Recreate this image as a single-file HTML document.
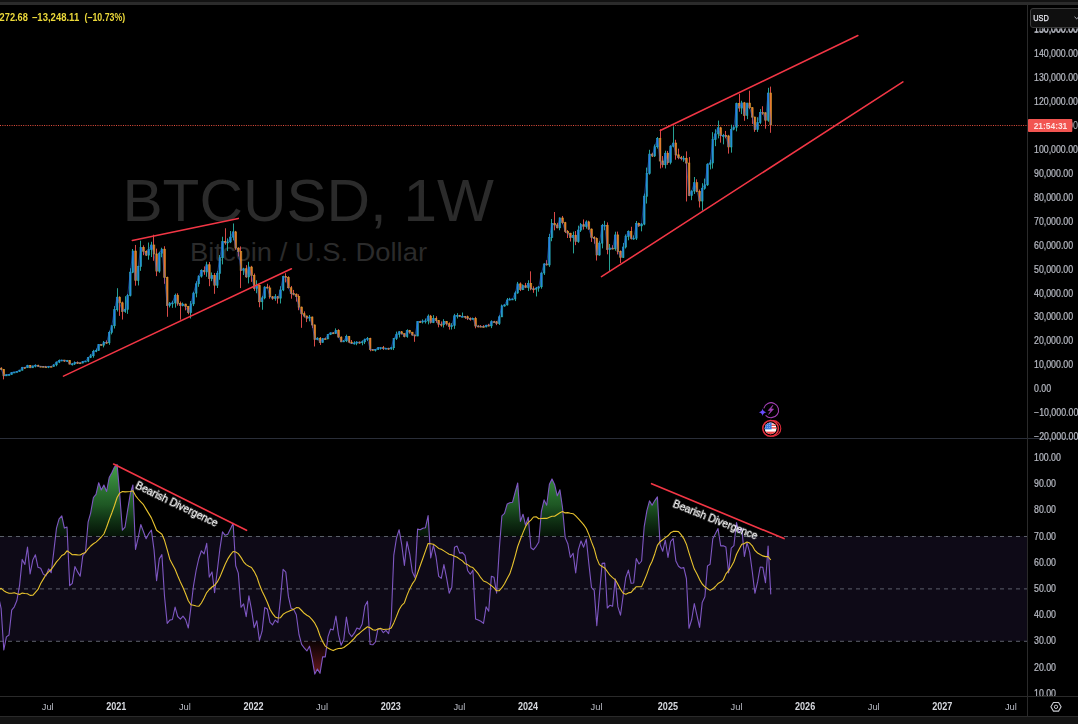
<!DOCTYPE html><html><head><meta charset="utf-8"><title>BTCUSD 1W</title><style>html,body{margin:0;padding:0;background:#000;overflow:hidden}body{width:1078px;height:724px;position:relative;font-family:"Liberation Sans",sans-serif}</style></head><body><svg width="1078" height="724" viewBox="0 0 1078 724" style="position:absolute;left:0;top:0;font-family:'Liberation Sans',sans-serif">
<defs><linearGradient id="gG" gradientUnits="userSpaceOnUse" x1="0" y1="458" x2="0" y2="536"><stop offset="0" stop-color="#4db352" stop-opacity="1"/><stop offset="0.6" stop-color="#2a7a32" stop-opacity="0.72"/><stop offset="1" stop-color="#1a5a24" stop-opacity="0.22"/></linearGradient><linearGradient id="gR" gradientUnits="userSpaceOnUse" x1="0" y1="641" x2="0" y2="700"><stop offset="0" stop-color="#7a1c22" stop-opacity="0.1"/><stop offset="1" stop-color="#e03540" stop-opacity="1"/></linearGradient><clipPath id="cM"><rect x="0" y="5" width="1027" height="433"/></clipPath><clipPath id="cR"><rect x="0" y="439" width="1027" height="257"/></clipPath><clipPath id="cU"><rect x="0" y="439" width="1027" height="97.2"/></clipPath><clipPath id="cD"><rect x="0" y="641" width="1027" height="55"/></clipPath><clipPath id="cAx"><rect x="1028" y="5" width="50" height="691"/></clipPath></defs>
<rect width="1078" height="724" fill="#000"/>
<rect x="0" y="0" width="1078" height="2" fill="#131313"/>
<rect x="0" y="2" width="1078" height="3" fill="#2b2b2b"/>
<g fill="#2b2b2b">
<text x="122.4" y="221.3" font-size="59.5" textLength="371.6" lengthAdjust="spacingAndGlyphs">BTCUSD, 1W</text>
<text x="190" y="261" font-size="26.6" textLength="237" lengthAdjust="spacingAndGlyphs">Bitcoin / U.S. Dollar</text>
</g>
<line x1="0" y1="125.5" x2="1027" y2="125.5" stroke="#e8503f" stroke-width="1" stroke-dasharray="1 1.32"/>
<g clip-path="url(#cM)">
<g opacity="0.9"><line x1="-1.5" y1="364.78" x2="-1.5" y2="368.31" stroke="#f0524f" stroke-width="1"/><line x1="1.5" y1="367.29" x2="1.5" y2="370.20" stroke="#f0524f" stroke-width="1"/><line x1="3.5" y1="368.98" x2="3.5" y2="379.39" stroke="#f0524f" stroke-width="1"/><line x1="6.5" y1="374.46" x2="6.5" y2="376.05" stroke="#2bb3a5" stroke-width="1"/><line x1="9.5" y1="374.43" x2="9.5" y2="375.15" stroke="#2bb3a5" stroke-width="1"/><line x1="11.5" y1="372.29" x2="11.5" y2="374.62" stroke="#2bb3a5" stroke-width="1"/><line x1="14.5" y1="371.93" x2="14.5" y2="372.53" stroke="#2bb3a5" stroke-width="1"/><line x1="16.5" y1="371.31" x2="16.5" y2="372.19" stroke="#2bb3a5" stroke-width="1"/><line x1="19.5" y1="370.08" x2="19.5" y2="371.70" stroke="#2bb3a5" stroke-width="1"/><line x1="22.5" y1="367.16" x2="22.5" y2="370.50" stroke="#2bb3a5" stroke-width="1"/><line x1="24.5" y1="367.19" x2="24.5" y2="368.78" stroke="#f0524f" stroke-width="1"/><line x1="27.5" y1="364.83" x2="27.5" y2="367.89" stroke="#2bb3a5" stroke-width="1"/><line x1="30.5" y1="365.20" x2="30.5" y2="368.08" stroke="#f0524f" stroke-width="1"/><line x1="32.5" y1="365.64" x2="32.5" y2="367.89" stroke="#2bb3a5" stroke-width="1"/><line x1="35.5" y1="364.32" x2="35.5" y2="367.36" stroke="#2bb3a5" stroke-width="1"/><line x1="38.5" y1="364.81" x2="38.5" y2="366.81" stroke="#f0524f" stroke-width="1"/><line x1="40.5" y1="366.13" x2="40.5" y2="366.50" stroke="#f0524f" stroke-width="1"/><line x1="43.5" y1="366.03" x2="43.5" y2="367.06" stroke="#f0524f" stroke-width="1"/><line x1="45.5" y1="365.91" x2="45.5" y2="367.09" stroke="#f0524f" stroke-width="1"/><line x1="48.5" y1="366.22" x2="48.5" y2="368.14" stroke="#2bb3a5" stroke-width="1"/><line x1="51.5" y1="365.84" x2="51.5" y2="366.75" stroke="#f0524f" stroke-width="1"/><line x1="53.5" y1="364.28" x2="53.5" y2="366.68" stroke="#2bb3a5" stroke-width="1"/><line x1="56.5" y1="361.51" x2="56.5" y2="366.25" stroke="#2bb3a5" stroke-width="1"/><line x1="59.5" y1="359.48" x2="59.5" y2="363.11" stroke="#2bb3a5" stroke-width="1"/><line x1="61.5" y1="359.80" x2="61.5" y2="361.14" stroke="#2bb3a5" stroke-width="1"/><line x1="64.5" y1="359.89" x2="64.5" y2="361.93" stroke="#f0524f" stroke-width="1"/><line x1="67.5" y1="359.94" x2="67.5" y2="361.94" stroke="#2bb3a5" stroke-width="1"/><line x1="69.5" y1="360.19" x2="69.5" y2="364.35" stroke="#f0524f" stroke-width="1"/><line x1="72.5" y1="362.93" x2="72.5" y2="365.54" stroke="#2bb3a5" stroke-width="1"/><line x1="74.5" y1="361.40" x2="74.5" y2="365.01" stroke="#2bb3a5" stroke-width="1"/><line x1="77.5" y1="361.45" x2="77.5" y2="363.86" stroke="#f0524f" stroke-width="1"/><line x1="80.5" y1="362.54" x2="80.5" y2="363.73" stroke="#f0524f" stroke-width="1"/><line x1="82.5" y1="360.99" x2="82.5" y2="363.21" stroke="#2bb3a5" stroke-width="1"/><line x1="85.5" y1="360.93" x2="85.5" y2="361.76" stroke="#2bb3a5" stroke-width="1"/><line x1="88.5" y1="357.07" x2="88.5" y2="362.11" stroke="#2bb3a5" stroke-width="1"/><line x1="90.5" y1="354.10" x2="90.5" y2="358.11" stroke="#2bb3a5" stroke-width="1"/><line x1="93.5" y1="349.83" x2="93.5" y2="357.66" stroke="#2bb3a5" stroke-width="1"/><line x1="96.5" y1="348.59" x2="96.5" y2="352.21" stroke="#2bb3a5" stroke-width="1"/><line x1="98.5" y1="344.11" x2="98.5" y2="350.84" stroke="#2bb3a5" stroke-width="1"/><line x1="101.5" y1="344.14" x2="101.5" y2="345.53" stroke="#f0524f" stroke-width="1"/><line x1="103.5" y1="340.99" x2="103.5" y2="347.38" stroke="#2bb3a5" stroke-width="1"/><line x1="106.5" y1="340.40" x2="106.5" y2="343.82" stroke="#f0524f" stroke-width="1"/><line x1="109.5" y1="330.79" x2="109.5" y2="344.80" stroke="#2bb3a5" stroke-width="1"/><line x1="111.5" y1="325.31" x2="111.5" y2="334.42" stroke="#2bb3a5" stroke-width="1"/><line x1="114.5" y1="306.12" x2="114.5" y2="328.48" stroke="#2bb3a5" stroke-width="1"/><line x1="117.5" y1="288.21" x2="117.5" y2="311.53" stroke="#2bb3a5" stroke-width="1"/><line x1="119.5" y1="296.39" x2="119.5" y2="315.85" stroke="#f0524f" stroke-width="1"/><line x1="122.5" y1="301.66" x2="122.5" y2="319.56" stroke="#f0524f" stroke-width="1"/><line x1="125.5" y1="296.23" x2="125.5" y2="312.84" stroke="#2bb3a5" stroke-width="1"/><line x1="127.5" y1="294.02" x2="127.5" y2="313.87" stroke="#2bb3a5" stroke-width="1"/><line x1="130.5" y1="268.30" x2="130.5" y2="296.44" stroke="#2bb3a5" stroke-width="1"/><line x1="132.5" y1="248.97" x2="132.5" y2="273.17" stroke="#2bb3a5" stroke-width="1"/><line x1="135.5" y1="244.94" x2="135.5" y2="285.70" stroke="#f0524f" stroke-width="1"/><line x1="138.5" y1="265.61" x2="138.5" y2="285.46" stroke="#2bb3a5" stroke-width="1"/><line x1="140.5" y1="240.71" x2="140.5" y2="270.84" stroke="#2bb3a5" stroke-width="1"/><line x1="143.5" y1="245.34" x2="143.5" y2="255.21" stroke="#f0524f" stroke-width="1"/><line x1="146.5" y1="250.34" x2="146.5" y2="255.83" stroke="#f0524f" stroke-width="1"/><line x1="148.5" y1="242.53" x2="148.5" y2="259.73" stroke="#2bb3a5" stroke-width="1"/><line x1="151.5" y1="241.77" x2="151.5" y2="257.09" stroke="#2bb3a5" stroke-width="1"/><line x1="153.5" y1="234.73" x2="153.5" y2="260.79" stroke="#f0524f" stroke-width="1"/><line x1="156.5" y1="248.64" x2="156.5" y2="276.13" stroke="#f0524f" stroke-width="1"/><line x1="159.5" y1="251.67" x2="159.5" y2="272.76" stroke="#2bb3a5" stroke-width="1"/><line x1="161.5" y1="247.73" x2="161.5" y2="257.27" stroke="#2bb3a5" stroke-width="1"/><line x1="164.5" y1="246.22" x2="164.5" y2="283.79" stroke="#f0524f" stroke-width="1"/><line x1="167.5" y1="276.62" x2="167.5" y2="316.81" stroke="#f0524f" stroke-width="1"/><line x1="169.5" y1="302.02" x2="169.5" y2="307.44" stroke="#2bb3a5" stroke-width="1"/><line x1="172.5" y1="300.74" x2="172.5" y2="307.85" stroke="#2bb3a5" stroke-width="1"/><line x1="175.5" y1="293.62" x2="175.5" y2="307.60" stroke="#2bb3a5" stroke-width="1"/><line x1="177.5" y1="293.27" x2="177.5" y2="305.71" stroke="#f0524f" stroke-width="1"/><line x1="180.5" y1="301.49" x2="180.5" y2="319.68" stroke="#f0524f" stroke-width="1"/><line x1="182.5" y1="302.56" x2="182.5" y2="306.36" stroke="#2bb3a5" stroke-width="1"/><line x1="185.5" y1="303.68" x2="185.5" y2="310.35" stroke="#f0524f" stroke-width="1"/><line x1="188.5" y1="305.94" x2="188.5" y2="314.29" stroke="#f0524f" stroke-width="1"/><line x1="190.5" y1="301.06" x2="190.5" y2="318.49" stroke="#2bb3a5" stroke-width="1"/><line x1="193.5" y1="291.81" x2="193.5" y2="306.10" stroke="#2bb3a5" stroke-width="1"/><line x1="196.5" y1="281.26" x2="196.5" y2="297.33" stroke="#2bb3a5" stroke-width="1"/><line x1="198.5" y1="275.36" x2="198.5" y2="286.80" stroke="#2bb3a5" stroke-width="1"/><line x1="201.5" y1="269.34" x2="201.5" y2="277.64" stroke="#2bb3a5" stroke-width="1"/><line x1="204.5" y1="266.36" x2="204.5" y2="274.80" stroke="#f0524f" stroke-width="1"/><line x1="206.5" y1="261.74" x2="206.5" y2="276.77" stroke="#2bb3a5" stroke-width="1"/><line x1="209.5" y1="262.01" x2="209.5" y2="286.18" stroke="#f0524f" stroke-width="1"/><line x1="211.5" y1="272.47" x2="211.5" y2="281.20" stroke="#2bb3a5" stroke-width="1"/><line x1="214.5" y1="273.05" x2="214.5" y2="293.84" stroke="#f0524f" stroke-width="1"/><line x1="217.5" y1="271.06" x2="217.5" y2="288.02" stroke="#2bb3a5" stroke-width="1"/><line x1="219.5" y1="255.05" x2="219.5" y2="279.76" stroke="#2bb3a5" stroke-width="1"/><line x1="222.5" y1="236.74" x2="222.5" y2="264.41" stroke="#2bb3a5" stroke-width="1"/><line x1="225.5" y1="228.27" x2="225.5" y2="244.71" stroke="#f0524f" stroke-width="1"/><line x1="227.5" y1="238.35" x2="227.5" y2="251.11" stroke="#2bb3a5" stroke-width="1"/><line x1="230.5" y1="231.02" x2="230.5" y2="243.10" stroke="#2bb3a5" stroke-width="1"/><line x1="233.5" y1="223.48" x2="233.5" y2="240.41" stroke="#2bb3a5" stroke-width="1"/><line x1="235.5" y1="230.90" x2="235.5" y2="249.80" stroke="#f0524f" stroke-width="1"/><line x1="238.5" y1="247.27" x2="238.5" y2="256.41" stroke="#f0524f" stroke-width="1"/><line x1="240.5" y1="246.43" x2="240.5" y2="288.09" stroke="#f0524f" stroke-width="1"/><line x1="243.5" y1="267.75" x2="243.5" y2="275.02" stroke="#2bb3a5" stroke-width="1"/><line x1="246.5" y1="265.15" x2="246.5" y2="277.77" stroke="#f0524f" stroke-width="1"/><line x1="248.5" y1="261.81" x2="248.5" y2="283.39" stroke="#2bb3a5" stroke-width="1"/><line x1="251.5" y1="265.83" x2="251.5" y2="281.90" stroke="#f0524f" stroke-width="1"/><line x1="254.5" y1="273.52" x2="254.5" y2="290.89" stroke="#f0524f" stroke-width="1"/><line x1="256.5" y1="280.30" x2="256.5" y2="293.24" stroke="#2bb3a5" stroke-width="1"/><line x1="259.5" y1="284.62" x2="259.5" y2="307.24" stroke="#f0524f" stroke-width="1"/><line x1="262.5" y1="295.90" x2="262.5" y2="309.75" stroke="#2bb3a5" stroke-width="1"/><line x1="264.5" y1="286.20" x2="264.5" y2="299.29" stroke="#2bb3a5" stroke-width="1"/><line x1="267.5" y1="283.77" x2="267.5" y2="288.52" stroke="#f0524f" stroke-width="1"/><line x1="269.5" y1="285.56" x2="269.5" y2="298.70" stroke="#f0524f" stroke-width="1"/><line x1="272.5" y1="296.22" x2="272.5" y2="299.82" stroke="#f0524f" stroke-width="1"/><line x1="275.5" y1="294.17" x2="275.5" y2="300.71" stroke="#2bb3a5" stroke-width="1"/><line x1="277.5" y1="296.16" x2="277.5" y2="303.57" stroke="#f0524f" stroke-width="1"/><line x1="280.5" y1="286.23" x2="280.5" y2="303.47" stroke="#2bb3a5" stroke-width="1"/><line x1="283.5" y1="275.73" x2="283.5" y2="291.16" stroke="#2bb3a5" stroke-width="1"/><line x1="285.5" y1="273.26" x2="285.5" y2="282.42" stroke="#f0524f" stroke-width="1"/><line x1="288.5" y1="276.27" x2="288.5" y2="288.53" stroke="#f0524f" stroke-width="1"/><line x1="291.5" y1="285.95" x2="291.5" y2="298.73" stroke="#f0524f" stroke-width="1"/><line x1="293.5" y1="289.90" x2="293.5" y2="295.39" stroke="#f0524f" stroke-width="1"/><line x1="296.5" y1="293.45" x2="296.5" y2="301.61" stroke="#f0524f" stroke-width="1"/><line x1="298.5" y1="294.30" x2="298.5" y2="310.22" stroke="#f0524f" stroke-width="1"/><line x1="301.5" y1="306.59" x2="301.5" y2="327.82" stroke="#f0524f" stroke-width="1"/><line x1="304.5" y1="311.36" x2="304.5" y2="317.60" stroke="#f0524f" stroke-width="1"/><line x1="306.5" y1="315.65" x2="306.5" y2="322.08" stroke="#f0524f" stroke-width="1"/><line x1="309.5" y1="315.03" x2="309.5" y2="321.33" stroke="#2bb3a5" stroke-width="1"/><line x1="312.5" y1="316.59" x2="312.5" y2="328.10" stroke="#f0524f" stroke-width="1"/><line x1="314.5" y1="324.56" x2="314.5" y2="346.48" stroke="#f0524f" stroke-width="1"/><line x1="317.5" y1="337.26" x2="317.5" y2="340.23" stroke="#2bb3a5" stroke-width="1"/><line x1="320.5" y1="337.02" x2="320.5" y2="344.96" stroke="#f0524f" stroke-width="1"/><line x1="322.5" y1="338.13" x2="322.5" y2="342.78" stroke="#2bb3a5" stroke-width="1"/><line x1="325.5" y1="337.58" x2="325.5" y2="339.41" stroke="#f0524f" stroke-width="1"/><line x1="327.5" y1="334.15" x2="327.5" y2="339.27" stroke="#2bb3a5" stroke-width="1"/><line x1="330.5" y1="332.52" x2="330.5" y2="335.08" stroke="#2bb3a5" stroke-width="1"/><line x1="333.5" y1="332.11" x2="333.5" y2="334.02" stroke="#f0524f" stroke-width="1"/><line x1="335.5" y1="328.39" x2="335.5" y2="333.98" stroke="#2bb3a5" stroke-width="1"/><line x1="338.5" y1="329.21" x2="338.5" y2="337.64" stroke="#f0524f" stroke-width="1"/><line x1="341.5" y1="336.40" x2="341.5" y2="342.07" stroke="#f0524f" stroke-width="1"/><line x1="343.5" y1="340.22" x2="343.5" y2="342.07" stroke="#2bb3a5" stroke-width="1"/><line x1="346.5" y1="334.67" x2="346.5" y2="342.09" stroke="#2bb3a5" stroke-width="1"/><line x1="349.5" y1="335.96" x2="349.5" y2="343.27" stroke="#f0524f" stroke-width="1"/><line x1="351.5" y1="340.02" x2="351.5" y2="343.94" stroke="#f0524f" stroke-width="1"/><line x1="354.5" y1="341.24" x2="354.5" y2="344.56" stroke="#2bb3a5" stroke-width="1"/><line x1="356.5" y1="341.20" x2="356.5" y2="345.20" stroke="#2bb3a5" stroke-width="1"/><line x1="359.5" y1="341.41" x2="359.5" y2="343.71" stroke="#f0524f" stroke-width="1"/><line x1="362.5" y1="340.36" x2="362.5" y2="345.29" stroke="#2bb3a5" stroke-width="1"/><line x1="364.5" y1="338.60" x2="364.5" y2="344.05" stroke="#2bb3a5" stroke-width="1"/><line x1="367.5" y1="336.97" x2="367.5" y2="340.96" stroke="#2bb3a5" stroke-width="1"/><line x1="370.5" y1="337.74" x2="370.5" y2="351.27" stroke="#f0524f" stroke-width="1"/><line x1="372.5" y1="349.37" x2="372.5" y2="350.02" stroke="#f0524f" stroke-width="1"/><line x1="375.5" y1="349.12" x2="375.5" y2="351.56" stroke="#2bb3a5" stroke-width="1"/><line x1="378.5" y1="347.22" x2="378.5" y2="349.71" stroke="#2bb3a5" stroke-width="1"/><line x1="380.5" y1="347.42" x2="380.5" y2="349.66" stroke="#2bb3a5" stroke-width="1"/><line x1="383.5" y1="345.95" x2="383.5" y2="349.96" stroke="#f0524f" stroke-width="1"/><line x1="385.5" y1="347.79" x2="385.5" y2="349.00" stroke="#2bb3a5" stroke-width="1"/><line x1="388.5" y1="347.78" x2="388.5" y2="349.78" stroke="#f0524f" stroke-width="1"/><line x1="391.5" y1="347.35" x2="391.5" y2="349.75" stroke="#2bb3a5" stroke-width="1"/><line x1="393.5" y1="338.02" x2="393.5" y2="350.06" stroke="#2bb3a5" stroke-width="1"/><line x1="396.5" y1="331.62" x2="396.5" y2="339.98" stroke="#2bb3a5" stroke-width="1"/><line x1="399.5" y1="331.16" x2="399.5" y2="337.45" stroke="#2bb3a5" stroke-width="1"/><line x1="401.5" y1="331.02" x2="401.5" y2="334.62" stroke="#f0524f" stroke-width="1"/><line x1="404.5" y1="333.39" x2="404.5" y2="337.40" stroke="#f0524f" stroke-width="1"/><line x1="407.5" y1="329.28" x2="407.5" y2="337.75" stroke="#2bb3a5" stroke-width="1"/><line x1="409.5" y1="329.91" x2="409.5" y2="333.67" stroke="#f0524f" stroke-width="1"/><line x1="412.5" y1="331.95" x2="412.5" y2="335.69" stroke="#f0524f" stroke-width="1"/><line x1="414.5" y1="334.65" x2="414.5" y2="341.82" stroke="#f0524f" stroke-width="1"/><line x1="417.5" y1="321.22" x2="417.5" y2="336.24" stroke="#2bb3a5" stroke-width="1"/><line x1="420.5" y1="320.73" x2="420.5" y2="322.49" stroke="#f0524f" stroke-width="1"/><line x1="422.5" y1="319.39" x2="422.5" y2="323.51" stroke="#2bb3a5" stroke-width="1"/><line x1="425.5" y1="318.52" x2="425.5" y2="323.49" stroke="#2bb3a5" stroke-width="1"/><line x1="428.5" y1="314.42" x2="428.5" y2="324.36" stroke="#2bb3a5" stroke-width="1"/><line x1="430.5" y1="314.91" x2="430.5" y2="323.59" stroke="#f0524f" stroke-width="1"/><line x1="433.5" y1="315.13" x2="433.5" y2="323.11" stroke="#2bb3a5" stroke-width="1"/><line x1="436.5" y1="316.27" x2="436.5" y2="322.84" stroke="#f0524f" stroke-width="1"/><line x1="438.5" y1="320.13" x2="438.5" y2="327.32" stroke="#f0524f" stroke-width="1"/><line x1="441.5" y1="321.42" x2="441.5" y2="326.70" stroke="#f0524f" stroke-width="1"/><line x1="443.5" y1="319.20" x2="443.5" y2="327.55" stroke="#2bb3a5" stroke-width="1"/><line x1="446.5" y1="320.97" x2="446.5" y2="325.47" stroke="#f0524f" stroke-width="1"/><line x1="449.5" y1="322.35" x2="449.5" y2="329.59" stroke="#f0524f" stroke-width="1"/><line x1="451.5" y1="323.14" x2="451.5" y2="329.55" stroke="#2bb3a5" stroke-width="1"/><line x1="454.5" y1="313.87" x2="454.5" y2="328.85" stroke="#2bb3a5" stroke-width="1"/><line x1="457.5" y1="313.11" x2="457.5" y2="318.47" stroke="#2bb3a5" stroke-width="1"/><line x1="459.5" y1="314.90" x2="459.5" y2="316.70" stroke="#f0524f" stroke-width="1"/><line x1="462.5" y1="312.50" x2="462.5" y2="317.24" stroke="#2bb3a5" stroke-width="1"/><line x1="465.5" y1="316.02" x2="465.5" y2="318.86" stroke="#f0524f" stroke-width="1"/><line x1="467.5" y1="315.59" x2="467.5" y2="320.06" stroke="#f0524f" stroke-width="1"/><line x1="470.5" y1="317.38" x2="470.5" y2="320.69" stroke="#f0524f" stroke-width="1"/><line x1="472.5" y1="317.57" x2="472.5" y2="319.31" stroke="#2bb3a5" stroke-width="1"/><line x1="475.5" y1="316.83" x2="475.5" y2="328.30" stroke="#f0524f" stroke-width="1"/><line x1="478.5" y1="325.18" x2="478.5" y2="327.33" stroke="#f0524f" stroke-width="1"/><line x1="480.5" y1="325.10" x2="480.5" y2="326.74" stroke="#f0524f" stroke-width="1"/><line x1="483.5" y1="325.17" x2="483.5" y2="327.34" stroke="#f0524f" stroke-width="1"/><line x1="486.5" y1="324.94" x2="486.5" y2="327.36" stroke="#2bb3a5" stroke-width="1"/><line x1="488.5" y1="323.85" x2="488.5" y2="326.20" stroke="#f0524f" stroke-width="1"/><line x1="491.5" y1="320.28" x2="491.5" y2="328.12" stroke="#2bb3a5" stroke-width="1"/><line x1="494.5" y1="320.83" x2="494.5" y2="322.61" stroke="#f0524f" stroke-width="1"/><line x1="496.5" y1="320.98" x2="496.5" y2="325.14" stroke="#f0524f" stroke-width="1"/><line x1="499.5" y1="315.19" x2="499.5" y2="324.95" stroke="#2bb3a5" stroke-width="1"/><line x1="501.5" y1="304.55" x2="501.5" y2="317.10" stroke="#2bb3a5" stroke-width="1"/><line x1="504.5" y1="304.43" x2="504.5" y2="306.69" stroke="#2bb3a5" stroke-width="1"/><line x1="507.5" y1="298.02" x2="507.5" y2="305.62" stroke="#2bb3a5" stroke-width="1"/><line x1="509.5" y1="297.83" x2="509.5" y2="300.24" stroke="#2bb3a5" stroke-width="1"/><line x1="512.5" y1="298.65" x2="512.5" y2="299.95" stroke="#2bb3a5" stroke-width="1"/><line x1="515.5" y1="291.18" x2="515.5" y2="301.09" stroke="#2bb3a5" stroke-width="1"/><line x1="517.5" y1="281.90" x2="517.5" y2="293.84" stroke="#2bb3a5" stroke-width="1"/><line x1="520.5" y1="282.45" x2="520.5" y2="291.08" stroke="#f0524f" stroke-width="1"/><line x1="522.5" y1="284.42" x2="522.5" y2="290.12" stroke="#2bb3a5" stroke-width="1"/><line x1="525.5" y1="282.88" x2="525.5" y2="288.15" stroke="#f0524f" stroke-width="1"/><line x1="528.5" y1="280.29" x2="528.5" y2="291.05" stroke="#2bb3a5" stroke-width="1"/><line x1="530.5" y1="271.34" x2="530.5" y2="290.23" stroke="#f0524f" stroke-width="1"/><line x1="533.5" y1="286.36" x2="533.5" y2="292.83" stroke="#f0524f" stroke-width="1"/><line x1="536.5" y1="286.90" x2="536.5" y2="296.47" stroke="#2bb3a5" stroke-width="1"/><line x1="538.5" y1="286.16" x2="538.5" y2="291.68" stroke="#2bb3a5" stroke-width="1"/><line x1="541.5" y1="272.32" x2="541.5" y2="288.70" stroke="#2bb3a5" stroke-width="1"/><line x1="544.5" y1="263.32" x2="544.5" y2="274.94" stroke="#2bb3a5" stroke-width="1"/><line x1="546.5" y1="260.20" x2="546.5" y2="265.50" stroke="#f0524f" stroke-width="1"/><line x1="549.5" y1="233.90" x2="549.5" y2="266.87" stroke="#2bb3a5" stroke-width="1"/><line x1="551.5" y1="218.99" x2="551.5" y2="241.24" stroke="#2bb3a5" stroke-width="1"/><line x1="554.5" y1="212.00" x2="554.5" y2="230.36" stroke="#f0524f" stroke-width="1"/><line x1="557.5" y1="222.79" x2="557.5" y2="228.34" stroke="#f0524f" stroke-width="1"/><line x1="559.5" y1="217.42" x2="559.5" y2="230.27" stroke="#2bb3a5" stroke-width="1"/><line x1="562.5" y1="215.94" x2="562.5" y2="224.16" stroke="#f0524f" stroke-width="1"/><line x1="565.5" y1="221.85" x2="565.5" y2="233.02" stroke="#f0524f" stroke-width="1"/><line x1="567.5" y1="230.06" x2="567.5" y2="238.02" stroke="#f0524f" stroke-width="1"/><line x1="570.5" y1="232.78" x2="570.5" y2="241.56" stroke="#f0524f" stroke-width="1"/><line x1="573.5" y1="231.58" x2="573.5" y2="253.40" stroke="#2bb3a5" stroke-width="1"/><line x1="575.5" y1="231.04" x2="575.5" y2="245.15" stroke="#f0524f" stroke-width="1"/><line x1="578.5" y1="225.66" x2="578.5" y2="242.84" stroke="#2bb3a5" stroke-width="1"/><line x1="580.5" y1="223.07" x2="580.5" y2="231.96" stroke="#2bb3a5" stroke-width="1"/><line x1="583.5" y1="219.46" x2="583.5" y2="229.59" stroke="#f0524f" stroke-width="1"/><line x1="586.5" y1="220.34" x2="586.5" y2="228.61" stroke="#2bb3a5" stroke-width="1"/><line x1="588.5" y1="220.69" x2="588.5" y2="229.69" stroke="#f0524f" stroke-width="1"/><line x1="591.5" y1="228.43" x2="591.5" y2="241.92" stroke="#f0524f" stroke-width="1"/><line x1="594.5" y1="236.20" x2="594.5" y2="243.72" stroke="#f0524f" stroke-width="1"/><line x1="596.5" y1="237.41" x2="596.5" y2="260.57" stroke="#f0524f" stroke-width="1"/><line x1="599.5" y1="241.11" x2="599.5" y2="255.78" stroke="#2bb3a5" stroke-width="1"/><line x1="602.5" y1="223.91" x2="602.5" y2="248.37" stroke="#2bb3a5" stroke-width="1"/><line x1="604.5" y1="220.85" x2="604.5" y2="230.26" stroke="#2bb3a5" stroke-width="1"/><line x1="607.5" y1="222.40" x2="607.5" y2="254.30" stroke="#f0524f" stroke-width="1"/><line x1="609.5" y1="244.00" x2="609.5" y2="271.34" stroke="#2bb3a5" stroke-width="1"/><line x1="612.5" y1="245.22" x2="612.5" y2="249.24" stroke="#f0524f" stroke-width="1"/><line x1="615.5" y1="231.71" x2="615.5" y2="250.68" stroke="#2bb3a5" stroke-width="1"/><line x1="617.5" y1="231.59" x2="617.5" y2="254.43" stroke="#f0524f" stroke-width="1"/><line x1="620.5" y1="250.43" x2="620.5" y2="262.97" stroke="#f0524f" stroke-width="1"/><line x1="623.5" y1="242.98" x2="623.5" y2="257.99" stroke="#2bb3a5" stroke-width="1"/><line x1="625.5" y1="234.49" x2="625.5" y2="248.52" stroke="#2bb3a5" stroke-width="1"/><line x1="628.5" y1="230.37" x2="628.5" y2="240.31" stroke="#2bb3a5" stroke-width="1"/><line x1="631.5" y1="226.77" x2="631.5" y2="239.52" stroke="#f0524f" stroke-width="1"/><line x1="633.5" y1="235.42" x2="633.5" y2="239.69" stroke="#2bb3a5" stroke-width="1"/><line x1="636.5" y1="220.97" x2="636.5" y2="240.01" stroke="#2bb3a5" stroke-width="1"/><line x1="638.5" y1="222.61" x2="638.5" y2="226.79" stroke="#f0524f" stroke-width="1"/><line x1="641.5" y1="223.09" x2="641.5" y2="231.35" stroke="#2bb3a5" stroke-width="1"/><line x1="644.5" y1="193.64" x2="644.5" y2="225.22" stroke="#2bb3a5" stroke-width="1"/><line x1="646.5" y1="167.57" x2="646.5" y2="203.57" stroke="#2bb3a5" stroke-width="1"/><line x1="649.5" y1="149.78" x2="649.5" y2="174.69" stroke="#2bb3a5" stroke-width="1"/><line x1="652.5" y1="152.75" x2="652.5" y2="156.99" stroke="#f0524f" stroke-width="1"/><line x1="654.5" y1="144.49" x2="654.5" y2="156.99" stroke="#2bb3a5" stroke-width="1"/><line x1="657.5" y1="136.99" x2="657.5" y2="148.58" stroke="#2bb3a5" stroke-width="1"/><line x1="660.5" y1="129.32" x2="660.5" y2="168.47" stroke="#f0524f" stroke-width="1"/><line x1="662.5" y1="156.05" x2="662.5" y2="167.56" stroke="#f0524f" stroke-width="1"/><line x1="665.5" y1="150.68" x2="665.5" y2="168.46" stroke="#2bb3a5" stroke-width="1"/><line x1="667.5" y1="150.91" x2="667.5" y2="164.77" stroke="#f0524f" stroke-width="1"/><line x1="670.5" y1="145.28" x2="670.5" y2="164.37" stroke="#2bb3a5" stroke-width="1"/><line x1="673.5" y1="126.33" x2="673.5" y2="147.37" stroke="#2bb3a5" stroke-width="1"/><line x1="675.5" y1="139.76" x2="675.5" y2="159.69" stroke="#f0524f" stroke-width="1"/><line x1="678.5" y1="148.67" x2="678.5" y2="159.25" stroke="#f0524f" stroke-width="1"/><line x1="681.5" y1="155.98" x2="681.5" y2="160.39" stroke="#f0524f" stroke-width="1"/><line x1="683.5" y1="155.85" x2="683.5" y2="161.80" stroke="#2bb3a5" stroke-width="1"/><line x1="686.5" y1="151.38" x2="686.5" y2="201.47" stroke="#f0524f" stroke-width="1"/><line x1="689.5" y1="157.05" x2="689.5" y2="196.14" stroke="#f0524f" stroke-width="1"/><line x1="691.5" y1="190.37" x2="691.5" y2="200.18" stroke="#2bb3a5" stroke-width="1"/><line x1="694.5" y1="177.01" x2="694.5" y2="193.97" stroke="#2bb3a5" stroke-width="1"/><line x1="696.5" y1="179.35" x2="696.5" y2="192.19" stroke="#f0524f" stroke-width="1"/><line x1="699.5" y1="189.51" x2="699.5" y2="207.50" stroke="#f0524f" stroke-width="1"/><line x1="702.5" y1="183.23" x2="702.5" y2="210.56" stroke="#2bb3a5" stroke-width="1"/><line x1="704.5" y1="178.58" x2="704.5" y2="189.72" stroke="#2bb3a5" stroke-width="1"/><line x1="707.5" y1="163.28" x2="707.5" y2="185.94" stroke="#2bb3a5" stroke-width="1"/><line x1="710.5" y1="159.76" x2="710.5" y2="169.44" stroke="#2bb3a5" stroke-width="1"/><line x1="712.5" y1="132.16" x2="712.5" y2="168.56" stroke="#2bb3a5" stroke-width="1"/><line x1="715.5" y1="129.23" x2="715.5" y2="146.18" stroke="#2bb3a5" stroke-width="1"/><line x1="718.5" y1="120.58" x2="718.5" y2="138.38" stroke="#2bb3a5" stroke-width="1"/><line x1="720.5" y1="126.84" x2="720.5" y2="142.66" stroke="#f0524f" stroke-width="1"/><line x1="723.5" y1="133.89" x2="723.5" y2="144.35" stroke="#2bb3a5" stroke-width="1"/><line x1="725.5" y1="130.95" x2="725.5" y2="138.34" stroke="#f0524f" stroke-width="1"/><line x1="728.5" y1="134.85" x2="728.5" y2="153.61" stroke="#f0524f" stroke-width="1"/><line x1="731.5" y1="124.70" x2="731.5" y2="152.67" stroke="#2bb3a5" stroke-width="1"/><line x1="733.5" y1="126.14" x2="733.5" y2="130.34" stroke="#2bb3a5" stroke-width="1"/><line x1="736.5" y1="102.64" x2="736.5" y2="131.35" stroke="#2bb3a5" stroke-width="1"/><line x1="739.5" y1="93.78" x2="739.5" y2="111.73" stroke="#f0524f" stroke-width="1"/><line x1="741.5" y1="100.72" x2="741.5" y2="114.12" stroke="#2bb3a5" stroke-width="1"/><line x1="744.5" y1="101.92" x2="744.5" y2="120.82" stroke="#f0524f" stroke-width="1"/><line x1="747.5" y1="102.88" x2="747.5" y2="119.15" stroke="#2bb3a5" stroke-width="1"/><line x1="749.5" y1="90.67" x2="749.5" y2="109.10" stroke="#f0524f" stroke-width="1"/><line x1="752.5" y1="107.18" x2="752.5" y2="123.93" stroke="#f0524f" stroke-width="1"/><line x1="754.5" y1="116.76" x2="754.5" y2="131.83" stroke="#f0524f" stroke-width="1"/><line x1="757.5" y1="117.23" x2="757.5" y2="131.95" stroke="#2bb3a5" stroke-width="1"/><line x1="760.5" y1="109.10" x2="760.5" y2="123.93" stroke="#2bb3a5" stroke-width="1"/><line x1="762.5" y1="106.23" x2="762.5" y2="114.84" stroke="#f0524f" stroke-width="1"/><line x1="765.5" y1="112.45" x2="765.5" y2="128.72" stroke="#f0524f" stroke-width="1"/><line x1="768.5" y1="87.80" x2="768.5" y2="121.78" stroke="#2bb3a5" stroke-width="1"/><line x1="770.5" y1="86.60" x2="770.5" y2="132.79" stroke="#f0524f" stroke-width="1"/></g>
<g opacity="0.92"><rect x="-2.31" y="365.48" width="1.6" height="2.70" fill="#ee6a35" stroke="#dca02c" stroke-width="0.7"/><rect x="0.33" y="368.19" width="1.6" height="1.17" fill="#ee6a35" stroke="#dca02c" stroke-width="0.7"/><rect x="2.96" y="369.36" width="1.6" height="6.44" fill="#ee6a35" stroke="#dca02c" stroke-width="0.7"/><rect x="5.60" y="374.68" width="1.6" height="1.11" fill="#2a7df5" stroke="#27b0b0" stroke-width="0.7"/><rect x="8.24" y="374.53" width="1.6" height="0.90" fill="#2a7df5" stroke="#27b0b0" stroke-width="0.7"/><rect x="10.87" y="372.39" width="1.6" height="2.14" fill="#2a7df5" stroke="#27b0b0" stroke-width="0.7"/><rect x="13.51" y="372.09" width="1.6" height="0.90" fill="#2a7df5" stroke="#27b0b0" stroke-width="0.7"/><rect x="16.14" y="371.55" width="1.6" height="0.90" fill="#2a7df5" stroke="#27b0b0" stroke-width="0.7"/><rect x="18.78" y="370.17" width="1.6" height="1.38" fill="#2a7df5" stroke="#27b0b0" stroke-width="0.7"/><rect x="21.41" y="367.30" width="1.6" height="2.87" fill="#2a7df5" stroke="#27b0b0" stroke-width="0.7"/><rect x="24.05" y="367.30" width="1.6" height="0.90" fill="#ee6a35" stroke="#dca02c" stroke-width="0.7"/><rect x="26.69" y="365.46" width="1.6" height="2.25" fill="#2a7df5" stroke="#27b0b0" stroke-width="0.7"/><rect x="29.32" y="365.46" width="1.6" height="2.27" fill="#ee6a35" stroke="#dca02c" stroke-width="0.7"/><rect x="31.96" y="365.99" width="1.6" height="1.75" fill="#2a7df5" stroke="#27b0b0" stroke-width="0.7"/><rect x="34.59" y="365.27" width="1.6" height="0.90" fill="#2a7df5" stroke="#27b0b0" stroke-width="0.7"/><rect x="37.23" y="365.27" width="1.6" height="1.01" fill="#ee6a35" stroke="#dca02c" stroke-width="0.7"/><rect x="39.86" y="366.27" width="1.6" height="0.90" fill="#ee6a35" stroke="#dca02c" stroke-width="0.7"/><rect x="42.50" y="366.35" width="1.6" height="0.90" fill="#ee6a35" stroke="#dca02c" stroke-width="0.7"/><rect x="45.14" y="366.78" width="1.6" height="0.90" fill="#ee6a35" stroke="#dca02c" stroke-width="0.7"/><rect x="47.77" y="366.35" width="1.6" height="0.90" fill="#2a7df5" stroke="#27b0b0" stroke-width="0.7"/><rect x="50.41" y="366.35" width="1.6" height="0.90" fill="#ee6a35" stroke="#dca02c" stroke-width="0.7"/><rect x="53.04" y="364.84" width="1.6" height="1.72" fill="#2a7df5" stroke="#27b0b0" stroke-width="0.7"/><rect x="55.68" y="362.11" width="1.6" height="2.73" fill="#2a7df5" stroke="#27b0b0" stroke-width="0.7"/><rect x="58.31" y="360.65" width="1.6" height="1.46" fill="#2a7df5" stroke="#27b0b0" stroke-width="0.7"/><rect x="60.95" y="360.12" width="1.6" height="0.90" fill="#2a7df5" stroke="#27b0b0" stroke-width="0.7"/><rect x="63.59" y="360.12" width="1.6" height="0.90" fill="#ee6a35" stroke="#dca02c" stroke-width="0.7"/><rect x="66.22" y="360.58" width="1.6" height="0.90" fill="#2a7df5" stroke="#27b0b0" stroke-width="0.7"/><rect x="68.86" y="360.58" width="1.6" height="3.49" fill="#ee6a35" stroke="#dca02c" stroke-width="0.7"/><rect x="71.49" y="363.88" width="1.6" height="0.90" fill="#2a7df5" stroke="#27b0b0" stroke-width="0.7"/><rect x="74.13" y="362.47" width="1.6" height="1.41" fill="#2a7df5" stroke="#27b0b0" stroke-width="0.7"/><rect x="76.76" y="362.47" width="1.6" height="0.90" fill="#ee6a35" stroke="#dca02c" stroke-width="0.7"/><rect x="79.40" y="362.80" width="1.6" height="0.90" fill="#ee6a35" stroke="#dca02c" stroke-width="0.7"/><rect x="82.04" y="361.39" width="1.6" height="1.68" fill="#2a7df5" stroke="#27b0b0" stroke-width="0.7"/><rect x="84.67" y="361.08" width="1.6" height="0.90" fill="#2a7df5" stroke="#27b0b0" stroke-width="0.7"/><rect x="87.31" y="357.42" width="1.6" height="3.66" fill="#2a7df5" stroke="#27b0b0" stroke-width="0.7"/><rect x="89.94" y="355.67" width="1.6" height="1.75" fill="#2a7df5" stroke="#27b0b0" stroke-width="0.7"/><rect x="92.58" y="351.56" width="1.6" height="4.12" fill="#2a7df5" stroke="#27b0b0" stroke-width="0.7"/><rect x="95.21" y="350.41" width="1.6" height="1.15" fill="#2a7df5" stroke="#27b0b0" stroke-width="0.7"/><rect x="97.85" y="344.54" width="1.6" height="5.86" fill="#2a7df5" stroke="#27b0b0" stroke-width="0.7"/><rect x="100.49" y="344.54" width="1.6" height="0.90" fill="#ee6a35" stroke="#dca02c" stroke-width="0.7"/><rect x="103.12" y="342.27" width="1.6" height="2.80" fill="#2a7df5" stroke="#27b0b0" stroke-width="0.7"/><rect x="105.76" y="342.27" width="1.6" height="0.90" fill="#ee6a35" stroke="#dca02c" stroke-width="0.7"/><rect x="108.39" y="332.44" width="1.6" height="10.29" fill="#2a7df5" stroke="#27b0b0" stroke-width="0.7"/><rect x="111.03" y="325.71" width="1.6" height="6.72" fill="#2a7df5" stroke="#27b0b0" stroke-width="0.7"/><rect x="113.66" y="309.65" width="1.6" height="16.06" fill="#2a7df5" stroke="#27b0b0" stroke-width="0.7"/><rect x="116.30" y="297.19" width="1.6" height="12.47" fill="#2a7df5" stroke="#27b0b0" stroke-width="0.7"/><rect x="118.94" y="297.19" width="1.6" height="5.67" fill="#ee6a35" stroke="#dca02c" stroke-width="0.7"/><rect x="121.57" y="302.86" width="1.6" height="8.50" fill="#ee6a35" stroke="#dca02c" stroke-width="0.7"/><rect x="124.21" y="309.37" width="1.6" height="1.99" fill="#2a7df5" stroke="#27b0b0" stroke-width="0.7"/><rect x="126.84" y="295.58" width="1.6" height="13.78" fill="#2a7df5" stroke="#27b0b0" stroke-width="0.7"/><rect x="129.48" y="272.18" width="1.6" height="23.40" fill="#2a7df5" stroke="#27b0b0" stroke-width="0.7"/><rect x="132.11" y="251.05" width="1.6" height="21.13" fill="#2a7df5" stroke="#27b0b0" stroke-width="0.7"/><rect x="134.75" y="251.05" width="1.6" height="29.29" fill="#ee6a35" stroke="#dca02c" stroke-width="0.7"/><rect x="137.39" y="266.56" width="1.6" height="13.78" fill="#2a7df5" stroke="#27b0b0" stroke-width="0.7"/><rect x="140.02" y="247.41" width="1.6" height="19.14" fill="#2a7df5" stroke="#27b0b0" stroke-width="0.7"/><rect x="142.66" y="247.41" width="1.6" height="3.95" fill="#ee6a35" stroke="#dca02c" stroke-width="0.7"/><rect x="145.29" y="251.36" width="1.6" height="3.76" fill="#ee6a35" stroke="#dca02c" stroke-width="0.7"/><rect x="147.93" y="249.33" width="1.6" height="5.79" fill="#2a7df5" stroke="#27b0b0" stroke-width="0.7"/><rect x="150.56" y="245.02" width="1.6" height="4.31" fill="#2a7df5" stroke="#27b0b0" stroke-width="0.7"/><rect x="153.20" y="245.02" width="1.6" height="8.93" fill="#ee6a35" stroke="#dca02c" stroke-width="0.7"/><rect x="155.84" y="253.95" width="1.6" height="17.16" fill="#ee6a35" stroke="#dca02c" stroke-width="0.7"/><rect x="158.47" y="253.16" width="1.6" height="17.95" fill="#2a7df5" stroke="#27b0b0" stroke-width="0.7"/><rect x="161.11" y="249.21" width="1.6" height="3.95" fill="#2a7df5" stroke="#27b0b0" stroke-width="0.7"/><rect x="163.74" y="249.21" width="1.6" height="28.24" fill="#ee6a35" stroke="#dca02c" stroke-width="0.7"/><rect x="166.38" y="277.45" width="1.6" height="28.12" fill="#ee6a35" stroke="#dca02c" stroke-width="0.7"/><rect x="169.01" y="303.29" width="1.6" height="2.27" fill="#2a7df5" stroke="#27b0b0" stroke-width="0.7"/><rect x="171.65" y="302.93" width="1.6" height="0.90" fill="#2a7df5" stroke="#27b0b0" stroke-width="0.7"/><rect x="174.29" y="295.27" width="1.6" height="7.66" fill="#2a7df5" stroke="#27b0b0" stroke-width="0.7"/><rect x="176.92" y="295.27" width="1.6" height="8.14" fill="#ee6a35" stroke="#dca02c" stroke-width="0.7"/><rect x="179.56" y="303.41" width="1.6" height="2.15" fill="#ee6a35" stroke="#dca02c" stroke-width="0.7"/><rect x="182.19" y="304.13" width="1.6" height="1.44" fill="#2a7df5" stroke="#27b0b0" stroke-width="0.7"/><rect x="184.83" y="304.13" width="1.6" height="2.51" fill="#ee6a35" stroke="#dca02c" stroke-width="0.7"/><rect x="187.46" y="306.64" width="1.6" height="5.86" fill="#ee6a35" stroke="#dca02c" stroke-width="0.7"/><rect x="190.10" y="303.89" width="1.6" height="8.61" fill="#2a7df5" stroke="#27b0b0" stroke-width="0.7"/><rect x="192.74" y="293.12" width="1.6" height="10.77" fill="#2a7df5" stroke="#27b0b0" stroke-width="0.7"/><rect x="195.37" y="283.79" width="1.6" height="9.33" fill="#2a7df5" stroke="#27b0b0" stroke-width="0.7"/><rect x="198.01" y="276.13" width="1.6" height="7.66" fill="#2a7df5" stroke="#27b0b0" stroke-width="0.7"/><rect x="200.64" y="270.63" width="1.6" height="5.50" fill="#2a7df5" stroke="#27b0b0" stroke-width="0.7"/><rect x="203.28" y="270.63" width="1.6" height="1.20" fill="#ee6a35" stroke="#dca02c" stroke-width="0.7"/><rect x="205.91" y="264.76" width="1.6" height="7.06" fill="#2a7df5" stroke="#27b0b0" stroke-width="0.7"/><rect x="208.55" y="264.76" width="1.6" height="13.64" fill="#ee6a35" stroke="#dca02c" stroke-width="0.7"/><rect x="211.19" y="275.53" width="1.6" height="2.87" fill="#2a7df5" stroke="#27b0b0" stroke-width="0.7"/><rect x="213.82" y="275.53" width="1.6" height="9.69" fill="#ee6a35" stroke="#dca02c" stroke-width="0.7"/><rect x="216.46" y="273.26" width="1.6" height="11.96" fill="#2a7df5" stroke="#27b0b0" stroke-width="0.7"/><rect x="219.09" y="257.70" width="1.6" height="15.55" fill="#2a7df5" stroke="#27b0b0" stroke-width="0.7"/><rect x="221.73" y="241.43" width="1.6" height="16.27" fill="#2a7df5" stroke="#27b0b0" stroke-width="0.7"/><rect x="224.36" y="241.43" width="1.6" height="1.44" fill="#ee6a35" stroke="#dca02c" stroke-width="0.7"/><rect x="227.00" y="241.91" width="1.6" height="0.96" fill="#2a7df5" stroke="#27b0b0" stroke-width="0.7"/><rect x="229.64" y="237.12" width="1.6" height="4.79" fill="#2a7df5" stroke="#27b0b0" stroke-width="0.7"/><rect x="232.27" y="231.86" width="1.6" height="5.26" fill="#2a7df5" stroke="#27b0b0" stroke-width="0.7"/><rect x="234.91" y="231.86" width="1.6" height="16.27" fill="#ee6a35" stroke="#dca02c" stroke-width="0.7"/><rect x="237.54" y="248.13" width="1.6" height="3.35" fill="#ee6a35" stroke="#dca02c" stroke-width="0.7"/><rect x="240.18" y="251.48" width="1.6" height="18.90" fill="#ee6a35" stroke="#dca02c" stroke-width="0.7"/><rect x="242.81" y="268.71" width="1.6" height="1.68" fill="#2a7df5" stroke="#27b0b0" stroke-width="0.7"/><rect x="245.45" y="268.71" width="1.6" height="8.14" fill="#ee6a35" stroke="#dca02c" stroke-width="0.7"/><rect x="248.08" y="267.04" width="1.6" height="9.81" fill="#2a7df5" stroke="#27b0b0" stroke-width="0.7"/><rect x="250.72" y="267.04" width="1.6" height="8.38" fill="#ee6a35" stroke="#dca02c" stroke-width="0.7"/><rect x="253.36" y="275.41" width="1.6" height="13.04" fill="#ee6a35" stroke="#dca02c" stroke-width="0.7"/><rect x="255.99" y="285.46" width="1.6" height="2.99" fill="#2a7df5" stroke="#27b0b0" stroke-width="0.7"/><rect x="258.63" y="285.46" width="1.6" height="16.27" fill="#ee6a35" stroke="#dca02c" stroke-width="0.7"/><rect x="261.26" y="297.91" width="1.6" height="3.83" fill="#2a7df5" stroke="#27b0b0" stroke-width="0.7"/><rect x="263.90" y="287.14" width="1.6" height="10.77" fill="#2a7df5" stroke="#27b0b0" stroke-width="0.7"/><rect x="266.53" y="287.14" width="1.6" height="0.90" fill="#ee6a35" stroke="#dca02c" stroke-width="0.7"/><rect x="269.17" y="287.97" width="1.6" height="8.73" fill="#ee6a35" stroke="#dca02c" stroke-width="0.7"/><rect x="271.81" y="296.71" width="1.6" height="1.68" fill="#ee6a35" stroke="#dca02c" stroke-width="0.7"/><rect x="274.44" y="296.71" width="1.6" height="1.68" fill="#2a7df5" stroke="#27b0b0" stroke-width="0.7"/><rect x="277.08" y="296.71" width="1.6" height="1.44" fill="#ee6a35" stroke="#dca02c" stroke-width="0.7"/><rect x="279.71" y="289.89" width="1.6" height="8.26" fill="#2a7df5" stroke="#27b0b0" stroke-width="0.7"/><rect x="282.35" y="276.49" width="1.6" height="13.40" fill="#2a7df5" stroke="#27b0b0" stroke-width="0.7"/><rect x="284.98" y="276.49" width="1.6" height="1.08" fill="#ee6a35" stroke="#dca02c" stroke-width="0.7"/><rect x="287.62" y="277.56" width="1.6" height="10.17" fill="#ee6a35" stroke="#dca02c" stroke-width="0.7"/><rect x="290.26" y="287.74" width="1.6" height="5.86" fill="#ee6a35" stroke="#dca02c" stroke-width="0.7"/><rect x="292.89" y="293.60" width="1.6" height="0.90" fill="#ee6a35" stroke="#dca02c" stroke-width="0.7"/><rect x="295.53" y="294.20" width="1.6" height="2.39" fill="#ee6a35" stroke="#dca02c" stroke-width="0.7"/><rect x="298.16" y="296.59" width="1.6" height="10.53" fill="#ee6a35" stroke="#dca02c" stroke-width="0.7"/><rect x="300.80" y="307.12" width="1.6" height="6.58" fill="#ee6a35" stroke="#dca02c" stroke-width="0.7"/><rect x="303.43" y="313.70" width="1.6" height="2.39" fill="#ee6a35" stroke="#dca02c" stroke-width="0.7"/><rect x="306.07" y="316.09" width="1.6" height="2.03" fill="#ee6a35" stroke="#dca02c" stroke-width="0.7"/><rect x="308.71" y="317.05" width="1.6" height="1.08" fill="#2a7df5" stroke="#27b0b0" stroke-width="0.7"/><rect x="311.34" y="317.05" width="1.6" height="7.90" fill="#ee6a35" stroke="#dca02c" stroke-width="0.7"/><rect x="313.98" y="324.95" width="1.6" height="14.48" fill="#ee6a35" stroke="#dca02c" stroke-width="0.7"/><rect x="316.61" y="338.23" width="1.6" height="1.20" fill="#2a7df5" stroke="#27b0b0" stroke-width="0.7"/><rect x="319.25" y="338.23" width="1.6" height="4.19" fill="#ee6a35" stroke="#dca02c" stroke-width="0.7"/><rect x="321.88" y="338.71" width="1.6" height="3.71" fill="#2a7df5" stroke="#27b0b0" stroke-width="0.7"/><rect x="324.52" y="338.71" width="1.6" height="0.90" fill="#ee6a35" stroke="#dca02c" stroke-width="0.7"/><rect x="327.16" y="334.52" width="1.6" height="4.31" fill="#2a7df5" stroke="#27b0b0" stroke-width="0.7"/><rect x="329.79" y="332.84" width="1.6" height="1.68" fill="#2a7df5" stroke="#27b0b0" stroke-width="0.7"/><rect x="332.43" y="332.84" width="1.6" height="0.90" fill="#ee6a35" stroke="#dca02c" stroke-width="0.7"/><rect x="335.06" y="330.45" width="1.6" height="2.75" fill="#2a7df5" stroke="#27b0b0" stroke-width="0.7"/><rect x="337.70" y="330.45" width="1.6" height="6.70" fill="#ee6a35" stroke="#dca02c" stroke-width="0.7"/><rect x="340.33" y="337.15" width="1.6" height="4.67" fill="#ee6a35" stroke="#dca02c" stroke-width="0.7"/><rect x="342.97" y="340.74" width="1.6" height="1.08" fill="#2a7df5" stroke="#27b0b0" stroke-width="0.7"/><rect x="345.61" y="336.43" width="1.6" height="4.31" fill="#2a7df5" stroke="#27b0b0" stroke-width="0.7"/><rect x="348.24" y="336.43" width="1.6" height="5.74" fill="#ee6a35" stroke="#dca02c" stroke-width="0.7"/><rect x="350.88" y="342.18" width="1.6" height="1.44" fill="#ee6a35" stroke="#dca02c" stroke-width="0.7"/><rect x="353.51" y="343.01" width="1.6" height="0.90" fill="#2a7df5" stroke="#27b0b0" stroke-width="0.7"/><rect x="356.15" y="342.18" width="1.6" height="0.90" fill="#2a7df5" stroke="#27b0b0" stroke-width="0.7"/><rect x="358.78" y="342.18" width="1.6" height="0.90" fill="#ee6a35" stroke="#dca02c" stroke-width="0.7"/><rect x="361.42" y="341.82" width="1.6" height="0.90" fill="#2a7df5" stroke="#27b0b0" stroke-width="0.7"/><rect x="364.06" y="339.30" width="1.6" height="2.51" fill="#2a7df5" stroke="#27b0b0" stroke-width="0.7"/><rect x="366.69" y="338.59" width="1.6" height="0.90" fill="#2a7df5" stroke="#27b0b0" stroke-width="0.7"/><rect x="369.33" y="338.59" width="1.6" height="11.01" fill="#ee6a35" stroke="#dca02c" stroke-width="0.7"/><rect x="371.96" y="349.59" width="1.6" height="0.90" fill="#ee6a35" stroke="#dca02c" stroke-width="0.7"/><rect x="374.60" y="349.35" width="1.6" height="0.90" fill="#2a7df5" stroke="#27b0b0" stroke-width="0.7"/><rect x="377.23" y="347.68" width="1.6" height="1.68" fill="#2a7df5" stroke="#27b0b0" stroke-width="0.7"/><rect x="379.87" y="347.68" width="1.6" height="0.90" fill="#2a7df5" stroke="#27b0b0" stroke-width="0.7"/><rect x="382.51" y="347.68" width="1.6" height="0.90" fill="#ee6a35" stroke="#dca02c" stroke-width="0.7"/><rect x="385.14" y="348.28" width="1.6" height="0.90" fill="#2a7df5" stroke="#27b0b0" stroke-width="0.7"/><rect x="387.78" y="348.28" width="1.6" height="0.90" fill="#ee6a35" stroke="#dca02c" stroke-width="0.7"/><rect x="390.41" y="347.68" width="1.6" height="1.20" fill="#2a7df5" stroke="#27b0b0" stroke-width="0.7"/><rect x="393.05" y="338.59" width="1.6" height="9.09" fill="#2a7df5" stroke="#27b0b0" stroke-width="0.7"/><rect x="395.68" y="334.28" width="1.6" height="4.31" fill="#2a7df5" stroke="#27b0b0" stroke-width="0.7"/><rect x="398.32" y="331.77" width="1.6" height="2.51" fill="#2a7df5" stroke="#27b0b0" stroke-width="0.7"/><rect x="400.96" y="331.77" width="1.6" height="1.91" fill="#ee6a35" stroke="#dca02c" stroke-width="0.7"/><rect x="403.59" y="333.68" width="1.6" height="2.75" fill="#ee6a35" stroke="#dca02c" stroke-width="0.7"/><rect x="406.23" y="330.45" width="1.6" height="5.98" fill="#2a7df5" stroke="#27b0b0" stroke-width="0.7"/><rect x="408.86" y="330.45" width="1.6" height="1.79" fill="#ee6a35" stroke="#dca02c" stroke-width="0.7"/><rect x="411.50" y="332.24" width="1.6" height="2.75" fill="#ee6a35" stroke="#dca02c" stroke-width="0.7"/><rect x="414.13" y="335.00" width="1.6" height="0.96" fill="#ee6a35" stroke="#dca02c" stroke-width="0.7"/><rect x="416.77" y="321.60" width="1.6" height="14.36" fill="#2a7df5" stroke="#27b0b0" stroke-width="0.7"/><rect x="419.41" y="321.60" width="1.6" height="0.90" fill="#ee6a35" stroke="#dca02c" stroke-width="0.7"/><rect x="422.04" y="321.12" width="1.6" height="0.90" fill="#2a7df5" stroke="#27b0b0" stroke-width="0.7"/><rect x="424.68" y="320.88" width="1.6" height="0.90" fill="#2a7df5" stroke="#27b0b0" stroke-width="0.7"/><rect x="427.31" y="316.09" width="1.6" height="4.79" fill="#2a7df5" stroke="#27b0b0" stroke-width="0.7"/><rect x="429.95" y="316.09" width="1.6" height="6.46" fill="#ee6a35" stroke="#dca02c" stroke-width="0.7"/><rect x="432.58" y="318.60" width="1.6" height="3.95" fill="#2a7df5" stroke="#27b0b0" stroke-width="0.7"/><rect x="435.22" y="318.60" width="1.6" height="1.91" fill="#ee6a35" stroke="#dca02c" stroke-width="0.7"/><rect x="437.86" y="320.52" width="1.6" height="3.71" fill="#ee6a35" stroke="#dca02c" stroke-width="0.7"/><rect x="440.49" y="324.23" width="1.6" height="0.90" fill="#ee6a35" stroke="#dca02c" stroke-width="0.7"/><rect x="443.13" y="321.48" width="1.6" height="3.11" fill="#2a7df5" stroke="#27b0b0" stroke-width="0.7"/><rect x="445.76" y="321.48" width="1.6" height="2.27" fill="#ee6a35" stroke="#dca02c" stroke-width="0.7"/><rect x="448.40" y="323.75" width="1.6" height="2.87" fill="#ee6a35" stroke="#dca02c" stroke-width="0.7"/><rect x="451.03" y="325.54" width="1.6" height="1.08" fill="#2a7df5" stroke="#27b0b0" stroke-width="0.7"/><rect x="453.67" y="315.73" width="1.6" height="9.81" fill="#2a7df5" stroke="#27b0b0" stroke-width="0.7"/><rect x="456.31" y="315.37" width="1.6" height="0.90" fill="#2a7df5" stroke="#27b0b0" stroke-width="0.7"/><rect x="458.94" y="315.37" width="1.6" height="1.08" fill="#ee6a35" stroke="#dca02c" stroke-width="0.7"/><rect x="461.58" y="316.33" width="1.6" height="0.90" fill="#2a7df5" stroke="#27b0b0" stroke-width="0.7"/><rect x="464.21" y="316.33" width="1.6" height="0.90" fill="#ee6a35" stroke="#dca02c" stroke-width="0.7"/><rect x="466.85" y="316.69" width="1.6" height="1.91" fill="#ee6a35" stroke="#dca02c" stroke-width="0.7"/><rect x="469.48" y="318.60" width="1.6" height="0.90" fill="#ee6a35" stroke="#dca02c" stroke-width="0.7"/><rect x="472.12" y="318.49" width="1.6" height="0.90" fill="#2a7df5" stroke="#27b0b0" stroke-width="0.7"/><rect x="474.76" y="318.49" width="1.6" height="7.54" fill="#ee6a35" stroke="#dca02c" stroke-width="0.7"/><rect x="477.39" y="326.02" width="1.6" height="0.90" fill="#ee6a35" stroke="#dca02c" stroke-width="0.7"/><rect x="480.03" y="326.26" width="1.6" height="0.90" fill="#ee6a35" stroke="#dca02c" stroke-width="0.7"/><rect x="482.66" y="326.50" width="1.6" height="0.90" fill="#ee6a35" stroke="#dca02c" stroke-width="0.7"/><rect x="485.30" y="325.19" width="1.6" height="1.68" fill="#2a7df5" stroke="#27b0b0" stroke-width="0.7"/><rect x="487.93" y="325.19" width="1.6" height="0.90" fill="#ee6a35" stroke="#dca02c" stroke-width="0.7"/><rect x="490.57" y="321.72" width="1.6" height="4.07" fill="#2a7df5" stroke="#27b0b0" stroke-width="0.7"/><rect x="493.21" y="321.72" width="1.6" height="0.90" fill="#ee6a35" stroke="#dca02c" stroke-width="0.7"/><rect x="495.84" y="321.84" width="1.6" height="1.79" fill="#ee6a35" stroke="#dca02c" stroke-width="0.7"/><rect x="498.48" y="316.81" width="1.6" height="6.82" fill="#2a7df5" stroke="#27b0b0" stroke-width="0.7"/><rect x="501.11" y="306.04" width="1.6" height="10.77" fill="#2a7df5" stroke="#27b0b0" stroke-width="0.7"/><rect x="503.75" y="304.85" width="1.6" height="1.20" fill="#2a7df5" stroke="#27b0b0" stroke-width="0.7"/><rect x="506.38" y="299.94" width="1.6" height="4.91" fill="#2a7df5" stroke="#27b0b0" stroke-width="0.7"/><rect x="509.02" y="299.22" width="1.6" height="0.90" fill="#2a7df5" stroke="#27b0b0" stroke-width="0.7"/><rect x="511.66" y="298.98" width="1.6" height="0.90" fill="#2a7df5" stroke="#27b0b0" stroke-width="0.7"/><rect x="514.29" y="293.00" width="1.6" height="5.98" fill="#2a7df5" stroke="#27b0b0" stroke-width="0.7"/><rect x="516.93" y="283.91" width="1.6" height="9.09" fill="#2a7df5" stroke="#27b0b0" stroke-width="0.7"/><rect x="519.56" y="283.91" width="1.6" height="5.74" fill="#ee6a35" stroke="#dca02c" stroke-width="0.7"/><rect x="522.20" y="285.70" width="1.6" height="3.95" fill="#2a7df5" stroke="#27b0b0" stroke-width="0.7"/><rect x="524.83" y="285.70" width="1.6" height="1.79" fill="#ee6a35" stroke="#dca02c" stroke-width="0.7"/><rect x="527.47" y="283.55" width="1.6" height="3.95" fill="#2a7df5" stroke="#27b0b0" stroke-width="0.7"/><rect x="530.10" y="283.55" width="1.6" height="5.26" fill="#ee6a35" stroke="#dca02c" stroke-width="0.7"/><rect x="532.74" y="288.81" width="1.6" height="0.90" fill="#ee6a35" stroke="#dca02c" stroke-width="0.7"/><rect x="535.38" y="288.09" width="1.6" height="1.08" fill="#2a7df5" stroke="#27b0b0" stroke-width="0.7"/><rect x="538.01" y="286.78" width="1.6" height="1.32" fill="#2a7df5" stroke="#27b0b0" stroke-width="0.7"/><rect x="540.65" y="273.02" width="1.6" height="13.76" fill="#2a7df5" stroke="#27b0b0" stroke-width="0.7"/><rect x="543.28" y="263.92" width="1.6" height="9.09" fill="#2a7df5" stroke="#27b0b0" stroke-width="0.7"/><rect x="545.92" y="263.92" width="1.6" height="0.96" fill="#ee6a35" stroke="#dca02c" stroke-width="0.7"/><rect x="548.55" y="237.60" width="1.6" height="27.28" fill="#2a7df5" stroke="#27b0b0" stroke-width="0.7"/><rect x="551.19" y="223.48" width="1.6" height="14.12" fill="#2a7df5" stroke="#27b0b0" stroke-width="0.7"/><rect x="553.83" y="223.48" width="1.6" height="1.44" fill="#ee6a35" stroke="#dca02c" stroke-width="0.7"/><rect x="556.46" y="224.92" width="1.6" height="2.87" fill="#ee6a35" stroke="#dca02c" stroke-width="0.7"/><rect x="559.10" y="217.98" width="1.6" height="9.81" fill="#2a7df5" stroke="#27b0b0" stroke-width="0.7"/><rect x="561.73" y="217.98" width="1.6" height="4.67" fill="#ee6a35" stroke="#dca02c" stroke-width="0.7"/><rect x="564.37" y="222.65" width="1.6" height="8.73" fill="#ee6a35" stroke="#dca02c" stroke-width="0.7"/><rect x="567.00" y="231.38" width="1.6" height="1.91" fill="#ee6a35" stroke="#dca02c" stroke-width="0.7"/><rect x="569.64" y="233.29" width="1.6" height="4.31" fill="#ee6a35" stroke="#dca02c" stroke-width="0.7"/><rect x="572.28" y="235.45" width="1.6" height="2.15" fill="#2a7df5" stroke="#27b0b0" stroke-width="0.7"/><rect x="574.91" y="235.45" width="1.6" height="6.10" fill="#ee6a35" stroke="#dca02c" stroke-width="0.7"/><rect x="577.55" y="230.06" width="1.6" height="11.49" fill="#2a7df5" stroke="#27b0b0" stroke-width="0.7"/><rect x="580.18" y="224.68" width="1.6" height="5.38" fill="#2a7df5" stroke="#27b0b0" stroke-width="0.7"/><rect x="582.82" y="224.68" width="1.6" height="1.79" fill="#ee6a35" stroke="#dca02c" stroke-width="0.7"/><rect x="585.45" y="221.93" width="1.6" height="4.55" fill="#2a7df5" stroke="#27b0b0" stroke-width="0.7"/><rect x="588.09" y="221.93" width="1.6" height="7.18" fill="#ee6a35" stroke="#dca02c" stroke-width="0.7"/><rect x="590.73" y="229.11" width="1.6" height="8.26" fill="#ee6a35" stroke="#dca02c" stroke-width="0.7"/><rect x="593.36" y="237.36" width="1.6" height="1.08" fill="#ee6a35" stroke="#dca02c" stroke-width="0.7"/><rect x="596.00" y="238.44" width="1.6" height="16.51" fill="#ee6a35" stroke="#dca02c" stroke-width="0.7"/><rect x="598.63" y="243.11" width="1.6" height="11.85" fill="#2a7df5" stroke="#27b0b0" stroke-width="0.7"/><rect x="601.27" y="225.52" width="1.6" height="17.59" fill="#2a7df5" stroke="#27b0b0" stroke-width="0.7"/><rect x="603.90" y="225.28" width="1.6" height="0.90" fill="#2a7df5" stroke="#27b0b0" stroke-width="0.7"/><rect x="606.54" y="225.28" width="1.6" height="24.29" fill="#ee6a35" stroke="#dca02c" stroke-width="0.7"/><rect x="609.18" y="248.13" width="1.6" height="1.44" fill="#2a7df5" stroke="#27b0b0" stroke-width="0.7"/><rect x="611.81" y="248.13" width="1.6" height="0.90" fill="#ee6a35" stroke="#dca02c" stroke-width="0.7"/><rect x="614.45" y="234.97" width="1.6" height="13.76" fill="#2a7df5" stroke="#27b0b0" stroke-width="0.7"/><rect x="617.08" y="234.97" width="1.6" height="16.51" fill="#ee6a35" stroke="#dca02c" stroke-width="0.7"/><rect x="619.72" y="251.48" width="1.6" height="5.86" fill="#ee6a35" stroke="#dca02c" stroke-width="0.7"/><rect x="622.35" y="247.05" width="1.6" height="10.29" fill="#2a7df5" stroke="#27b0b0" stroke-width="0.7"/><rect x="624.99" y="236.41" width="1.6" height="10.65" fill="#2a7df5" stroke="#27b0b0" stroke-width="0.7"/><rect x="627.63" y="231.62" width="1.6" height="4.79" fill="#2a7df5" stroke="#27b0b0" stroke-width="0.7"/><rect x="630.26" y="231.62" width="1.6" height="6.70" fill="#ee6a35" stroke="#dca02c" stroke-width="0.7"/><rect x="632.90" y="238.20" width="1.6" height="0.90" fill="#2a7df5" stroke="#27b0b0" stroke-width="0.7"/><rect x="635.53" y="223.48" width="1.6" height="14.72" fill="#2a7df5" stroke="#27b0b0" stroke-width="0.7"/><rect x="638.17" y="223.48" width="1.6" height="2.39" fill="#ee6a35" stroke="#dca02c" stroke-width="0.7"/><rect x="640.80" y="224.08" width="1.6" height="1.79" fill="#2a7df5" stroke="#27b0b0" stroke-width="0.7"/><rect x="643.44" y="196.20" width="1.6" height="27.88" fill="#2a7df5" stroke="#27b0b0" stroke-width="0.7"/><rect x="646.08" y="173.59" width="1.6" height="22.61" fill="#2a7df5" stroke="#27b0b0" stroke-width="0.7"/><rect x="648.71" y="154.09" width="1.6" height="19.50" fill="#2a7df5" stroke="#27b0b0" stroke-width="0.7"/><rect x="651.35" y="154.09" width="1.6" height="1.91" fill="#ee6a35" stroke="#dca02c" stroke-width="0.7"/><rect x="653.98" y="146.67" width="1.6" height="9.33" fill="#2a7df5" stroke="#27b0b0" stroke-width="0.7"/><rect x="656.62" y="138.65" width="1.6" height="8.02" fill="#2a7df5" stroke="#27b0b0" stroke-width="0.7"/><rect x="659.25" y="138.65" width="1.6" height="22.37" fill="#ee6a35" stroke="#dca02c" stroke-width="0.7"/><rect x="661.89" y="161.03" width="1.6" height="3.71" fill="#ee6a35" stroke="#dca02c" stroke-width="0.7"/><rect x="664.53" y="153.25" width="1.6" height="11.49" fill="#2a7df5" stroke="#27b0b0" stroke-width="0.7"/><rect x="667.16" y="153.25" width="1.6" height="9.21" fill="#ee6a35" stroke="#dca02c" stroke-width="0.7"/><rect x="669.80" y="146.19" width="1.6" height="16.27" fill="#2a7df5" stroke="#27b0b0" stroke-width="0.7"/><rect x="672.43" y="143.08" width="1.6" height="3.11" fill="#2a7df5" stroke="#27b0b0" stroke-width="0.7"/><rect x="675.07" y="143.08" width="1.6" height="11.73" fill="#ee6a35" stroke="#dca02c" stroke-width="0.7"/><rect x="677.70" y="154.80" width="1.6" height="2.87" fill="#ee6a35" stroke="#dca02c" stroke-width="0.7"/><rect x="680.34" y="157.68" width="1.6" height="0.96" fill="#ee6a35" stroke="#dca02c" stroke-width="0.7"/><rect x="682.98" y="158.27" width="1.6" height="0.90" fill="#2a7df5" stroke="#27b0b0" stroke-width="0.7"/><rect x="685.61" y="158.27" width="1.6" height="4.79" fill="#ee6a35" stroke="#dca02c" stroke-width="0.7"/><rect x="688.25" y="163.06" width="1.6" height="32.43" fill="#ee6a35" stroke="#dca02c" stroke-width="0.7"/><rect x="690.88" y="191.06" width="1.6" height="4.43" fill="#2a7df5" stroke="#27b0b0" stroke-width="0.7"/><rect x="693.52" y="182.68" width="1.6" height="8.38" fill="#2a7df5" stroke="#27b0b0" stroke-width="0.7"/><rect x="696.15" y="182.68" width="1.6" height="8.85" fill="#ee6a35" stroke="#dca02c" stroke-width="0.7"/><rect x="698.79" y="191.54" width="1.6" height="9.45" fill="#ee6a35" stroke="#dca02c" stroke-width="0.7"/><rect x="701.43" y="188.19" width="1.6" height="12.80" fill="#2a7df5" stroke="#27b0b0" stroke-width="0.7"/><rect x="704.06" y="184.84" width="1.6" height="3.35" fill="#2a7df5" stroke="#27b0b0" stroke-width="0.7"/><rect x="706.70" y="164.26" width="1.6" height="20.58" fill="#2a7df5" stroke="#27b0b0" stroke-width="0.7"/><rect x="709.33" y="162.94" width="1.6" height="1.32" fill="#2a7df5" stroke="#27b0b0" stroke-width="0.7"/><rect x="711.97" y="139.49" width="1.6" height="23.45" fill="#2a7df5" stroke="#27b0b0" stroke-width="0.7"/><rect x="714.60" y="133.87" width="1.6" height="5.62" fill="#2a7df5" stroke="#27b0b0" stroke-width="0.7"/><rect x="717.24" y="127.76" width="1.6" height="6.10" fill="#2a7df5" stroke="#27b0b0" stroke-width="0.7"/><rect x="719.88" y="127.76" width="1.6" height="7.90" fill="#ee6a35" stroke="#dca02c" stroke-width="0.7"/><rect x="722.51" y="135.54" width="1.6" height="0.90" fill="#2a7df5" stroke="#27b0b0" stroke-width="0.7"/><rect x="725.15" y="135.54" width="1.6" height="0.90" fill="#ee6a35" stroke="#dca02c" stroke-width="0.7"/><rect x="727.78" y="136.02" width="1.6" height="10.89" fill="#ee6a35" stroke="#dca02c" stroke-width="0.7"/><rect x="730.42" y="129.32" width="1.6" height="17.59" fill="#2a7df5" stroke="#27b0b0" stroke-width="0.7"/><rect x="733.05" y="127.28" width="1.6" height="2.03" fill="#2a7df5" stroke="#27b0b0" stroke-width="0.7"/><rect x="735.69" y="103.59" width="1.6" height="23.69" fill="#2a7df5" stroke="#27b0b0" stroke-width="0.7"/><rect x="738.33" y="103.59" width="1.6" height="4.43" fill="#ee6a35" stroke="#dca02c" stroke-width="0.7"/><rect x="740.96" y="102.88" width="1.6" height="5.14" fill="#2a7df5" stroke="#27b0b0" stroke-width="0.7"/><rect x="743.60" y="102.88" width="1.6" height="12.44" fill="#ee6a35" stroke="#dca02c" stroke-width="0.7"/><rect x="746.23" y="103.12" width="1.6" height="12.20" fill="#2a7df5" stroke="#27b0b0" stroke-width="0.7"/><rect x="748.87" y="103.12" width="1.6" height="4.55" fill="#ee6a35" stroke="#dca02c" stroke-width="0.7"/><rect x="751.50" y="107.66" width="1.6" height="9.45" fill="#ee6a35" stroke="#dca02c" stroke-width="0.7"/><rect x="754.14" y="117.11" width="1.6" height="12.44" fill="#ee6a35" stroke="#dca02c" stroke-width="0.7"/><rect x="756.78" y="122.62" width="1.6" height="6.94" fill="#2a7df5" stroke="#27b0b0" stroke-width="0.7"/><rect x="759.41" y="112.57" width="1.6" height="10.05" fill="#2a7df5" stroke="#27b0b0" stroke-width="0.7"/><rect x="762.05" y="112.57" width="1.6" height="0.90" fill="#ee6a35" stroke="#dca02c" stroke-width="0.7"/><rect x="764.68" y="112.69" width="1.6" height="7.54" fill="#ee6a35" stroke="#dca02c" stroke-width="0.7"/><rect x="767.32" y="93.06" width="1.6" height="27.16" fill="#2a7df5" stroke="#27b0b0" stroke-width="0.7"/><rect x="769.95" y="93.06" width="1.6" height="31.78" fill="#ee6a35" stroke="#dca02c" stroke-width="0.7"/></g>
<polyline points="-4.1,365.5 -1.5,368.2 1.1,369.4 3.8,375.8 6.4,374.7 9.0,374.5 11.7,372.4 14.3,372.1 16.9,371.5 19.6,370.2 22.2,367.3 24.9,367.7 27.5,365.5 30.1,367.7 32.8,366.0 35.4,365.3 38.0,366.3 40.7,366.3 43.3,366.8 45.9,366.9 48.6,366.3 51.2,366.6 53.8,364.8 56.5,362.1 59.1,360.6 61.8,360.1 64.4,360.7 67.0,360.6 69.7,364.1 72.3,363.9 74.9,362.5 77.6,362.8 80.2,363.1 82.8,361.4 85.5,361.1 88.1,357.4 90.7,355.7 93.4,351.6 96.0,350.4 98.7,344.5 101.3,345.1 103.9,342.3 106.6,342.7 109.2,332.4 111.8,325.7 114.5,309.7 117.1,297.2 119.7,302.9 122.4,311.4 125.0,309.4 127.6,295.6 130.3,272.2 132.9,251.1 135.5,280.3 138.2,266.6 140.8,247.4 143.5,251.4 146.1,255.1 148.7,249.3 151.4,245.0 154.0,253.9 156.6,271.1 159.3,253.2 161.9,249.2 164.5,277.4 167.2,305.6 169.8,303.3 172.4,302.9 175.1,295.3 177.7,303.4 180.4,305.6 183.0,304.1 185.6,306.6 188.3,312.5 190.9,303.9 193.5,293.1 196.2,283.8 198.8,276.1 201.4,270.6 204.1,271.8 206.7,264.8 209.3,278.4 212.0,275.5 214.6,285.2 217.3,273.3 219.9,257.7 222.5,241.4 225.2,242.9 227.8,241.9 230.4,237.1 233.1,231.9 235.7,248.1 238.3,251.5 241.0,270.4 243.6,268.7 246.2,276.8 248.9,267.0 251.5,275.4 254.2,288.5 256.8,285.5 259.4,301.7 262.1,297.9 264.7,287.1 267.3,288.0 270.0,296.7 272.6,298.4 275.2,296.7 277.9,298.1 280.5,289.9 283.1,276.5 285.8,277.6 288.4,287.7 291.1,293.6 293.7,294.2 296.3,296.6 299.0,307.1 301.6,313.7 304.2,316.1 306.9,318.1 309.5,317.0 312.1,324.9 314.8,339.4 317.4,338.2 320.0,342.4 322.7,338.7 325.3,338.8 328.0,334.5 330.6,332.8 333.2,333.2 335.9,330.5 338.5,337.2 341.1,341.8 343.8,340.7 346.4,336.4 349.0,342.2 351.7,343.6 354.3,343.0 356.9,342.2 359.6,342.5 362.2,341.8 364.9,339.3 367.5,338.6 370.1,349.6 372.8,349.7 375.4,349.4 378.0,347.7 380.7,347.7 383.3,348.5 385.9,348.3 388.6,348.9 391.2,347.7 393.8,338.6 396.5,334.3 399.1,331.8 401.8,333.7 404.4,336.4 407.0,330.5 409.7,332.2 412.3,335.0 414.9,336.0 417.6,321.6 420.2,321.7 422.8,321.1 425.5,320.9 428.1,316.1 430.7,322.6 433.4,318.6 436.0,320.5 438.7,324.2 441.3,324.6 443.9,321.5 446.6,323.7 449.2,326.6 451.8,325.5 454.5,315.7 457.1,315.4 459.7,316.5 462.4,316.3 465.0,316.7 467.6,318.6 470.3,319.1 472.9,318.5 475.6,326.0 478.2,326.3 480.8,326.5 483.5,326.9 486.1,325.2 488.7,325.8 491.4,321.7 494.0,321.8 496.6,323.6 499.3,316.8 501.9,306.0 504.5,304.8 507.2,299.9 509.8,299.2 512.5,299.0 515.1,293.0 517.7,283.9 520.4,289.6 523.0,285.7 525.6,287.5 528.3,283.5 530.9,288.8 533.5,289.2 536.2,288.1 538.8,286.8 541.4,273.0 544.1,263.9 546.7,264.9 549.4,237.6 552.0,223.5 554.6,224.9 557.3,227.8 559.9,218.0 562.5,222.6 565.2,231.4 567.8,233.3 570.4,237.6 573.1,235.4 575.7,241.6 578.3,230.1 581.0,224.7 583.6,226.5 586.3,221.9 588.9,229.1 591.5,237.4 594.2,238.4 596.8,255.0 599.4,243.1 602.1,225.5 604.7,225.3 607.3,249.6 610.0,248.1 612.6,248.7 615.2,235.0 617.9,251.5 620.5,257.3 623.2,247.1 625.8,236.4 628.4,231.6 631.1,238.3 633.7,238.2 636.3,223.5 639.0,225.9 641.6,224.1 644.2,196.2 646.9,173.6 649.5,154.1 652.1,156.0 654.8,146.7 657.4,138.7 660.1,161.0 662.7,164.7 665.3,153.2 668.0,162.5 670.6,146.2 673.2,143.1 675.9,154.8 678.5,157.7 681.1,158.6 683.8,158.3 686.4,163.1 689.0,195.5 691.7,191.1 694.3,182.7 697.0,191.5 699.6,201.0 702.2,188.2 704.9,184.8 707.5,164.3 710.1,162.9 712.8,139.5 715.4,133.9 718.0,127.8 720.7,135.7 723.3,135.5 725.9,136.0 728.6,146.9 731.2,129.3 733.9,127.3 736.5,103.6 739.1,108.0 741.8,102.9 744.4,115.3 747.0,103.1 749.7,107.7 752.3,117.1 754.9,129.6 757.6,122.6 760.2,112.6 762.8,112.7 765.5,120.2 768.1,93.1 770.8,124.8" fill="none" stroke="#2962ff" stroke-width="0.9" stroke-linejoin="round" opacity="0.55"/>
</g>
<g stroke="#f23645" stroke-width="1.55" stroke-linecap="round">
<line x1="132.3" y1="240.4" x2="238.3" y2="218.4"/>
<line x1="63.5" y1="376.1" x2="291.4" y2="268.8"/>
<line x1="660.3" y1="130.5" x2="857.9" y2="35.5"/>
<line x1="601.5" y1="276.7" x2="902.9" y2="81.9"/>
</g>
<rect x="0" y="536.2" width="1027" height="104.8" fill="#0e0a17"/>
<line x1="0" y1="536.5" x2="1027" y2="536.5" stroke="#5d606b" stroke-width="1" stroke-dasharray="4 4"/>
<line x1="0" y1="588.9" x2="1027" y2="588.9" stroke="#5d606b" stroke-width="1" stroke-dasharray="4 4"/>
<line x1="0" y1="641.3" x2="1027" y2="641.3" stroke="#5d606b" stroke-width="1" stroke-dasharray="4 4"/>
<polygon points="-4.1,536.2 -4.1,561.4 -1.5,596.3 1.1,608.3 3.8,650.0 6.4,636.9 9.0,635.0 11.7,610.1 14.3,606.8 16.9,600.5 19.6,585.1 22.2,559.4 24.9,564.4 27.5,547.0 30.1,573.9 32.8,560.1 35.4,554.8 38.0,567.3 40.7,568.2 43.3,574.1 45.9,575.9 48.6,568.9 51.2,572.7 53.8,551.4 56.5,528.1 59.1,518.9 61.8,515.8 64.4,528.1 67.0,527.0 69.7,585.7 72.3,583.3 74.9,566.6 77.6,571.9 80.2,576.2 82.8,555.6 85.5,552.2 88.1,522.2 90.7,512.8 93.4,497.5 96.0,494.3 98.7,482.7 101.3,490.0 103.9,485.0 106.6,491.5 109.2,477.5 111.8,472.8 114.5,467.0 117.1,464.6 119.7,493.7 122.4,530.1 125.0,527.2 127.6,510.4 130.3,493.8 132.9,485.0 135.5,549.4 138.2,537.7 140.8,524.5 143.5,531.7 146.1,538.8 148.7,533.8 151.4,530.1 154.0,549.6 156.6,580.6 159.3,558.9 161.9,554.6 164.5,596.2 167.2,623.4 169.8,620.1 172.4,619.5 175.1,607.1 177.7,616.5 180.4,619.1 183.0,616.2 185.6,619.7 188.3,628.0 190.9,607.5 193.5,585.8 196.2,570.0 198.8,558.5 201.4,550.8 204.1,553.9 206.7,543.4 209.3,577.1 212.0,571.9 214.6,592.7 217.3,570.6 219.9,548.8 222.5,531.9 225.2,535.3 227.8,534.2 230.4,528.9 233.1,523.2 235.7,565.8 238.3,573.1 241.0,607.3 243.6,603.9 246.2,616.6 248.9,595.9 251.5,609.7 254.2,627.6 256.8,620.7 259.4,640.3 262.1,631.2 264.7,607.6 267.3,608.9 270.0,622.3 272.6,624.8 275.2,620.1 277.9,622.7 280.5,598.8 283.1,569.3 285.8,572.1 288.4,596.4 291.1,608.3 293.7,609.5 296.3,614.7 299.0,634.5 301.6,644.4 304.2,647.9 306.9,650.9 309.5,646.2 312.1,658.5 314.8,674.1 317.4,669.1 320.0,673.3 322.7,656.7 325.3,656.9 328.0,636.6 330.6,629.0 333.2,629.9 335.9,616.0 338.5,634.7 341.1,645.3 343.8,639.4 346.4,617.0 349.0,633.0 351.7,636.7 354.3,633.2 356.9,628.0 359.6,629.3 362.2,624.0 364.9,606.1 367.5,601.2 370.1,644.5 372.8,644.8 375.4,642.0 378.0,628.7 380.7,628.7 383.3,632.7 385.9,630.3 388.6,633.6 391.2,619.9 393.8,555.1 396.5,538.0 399.1,529.7 401.8,545.2 404.4,565.4 407.0,541.6 409.7,553.9 412.3,571.7 414.9,577.6 417.6,529.1 420.2,529.8 422.8,528.3 425.5,527.7 428.1,515.6 430.7,557.9 433.4,545.4 436.0,556.5 438.7,576.4 441.3,578.3 443.9,564.6 446.6,577.8 449.2,593.2 451.8,587.2 454.5,547.2 457.1,546.1 459.7,553.1 462.4,552.6 465.0,555.4 467.6,570.5 470.3,574.2 472.9,570.2 475.6,618.9 478.2,620.0 480.8,621.3 483.5,623.4 486.1,606.8 488.7,611.2 491.4,576.2 494.0,577.3 496.6,593.2 499.3,549.3 501.9,515.8 504.5,513.3 507.2,504.0 509.8,502.7 512.5,502.3 515.1,492.5 517.7,483.0 520.4,521.4 523.0,514.2 525.6,525.3 528.3,517.3 530.9,547.7 533.5,549.7 536.2,546.3 538.8,542.0 541.4,511.4 544.1,499.9 546.7,505.3 549.4,484.3 552.0,478.9 554.6,484.4 557.3,495.8 559.9,489.8 562.5,507.7 565.2,537.6 567.8,543.7 570.4,557.5 573.1,553.3 575.7,573.0 578.3,549.8 581.0,541.0 583.6,547.2 586.3,539.1 588.9,564.0 591.5,587.5 594.2,590.4 596.8,625.6 599.4,595.3 602.1,563.4 604.7,563.1 607.3,608.0 610.0,605.2 612.6,606.2 615.2,578.9 617.9,606.9 620.5,615.2 623.2,595.2 625.8,577.5 628.4,570.1 631.1,583.3 633.7,583.0 636.3,558.5 639.0,564.0 641.6,561.0 644.2,526.7 646.9,510.7 649.5,500.9 652.1,505.3 654.8,500.6 657.4,496.9 660.1,544.6 662.7,551.3 665.3,540.2 668.0,557.5 670.6,541.5 673.2,538.7 675.9,561.1 678.5,566.3 681.1,568.2 683.8,567.6 686.4,578.5 689.0,628.3 691.7,619.5 694.3,603.5 697.0,615.7 699.6,627.4 702.2,602.6 704.9,596.7 707.5,565.9 710.1,564.2 712.8,538.7 715.4,533.8 718.0,528.5 720.7,545.9 723.3,545.8 725.9,547.0 728.6,573.0 731.2,548.2 733.9,545.7 736.5,522.6 739.1,532.9 741.8,528.1 744.4,556.5 747.0,542.6 749.7,552.4 752.3,571.7 754.9,593.3 757.6,581.9 760.2,567.0 762.8,567.2 765.5,582.8 768.1,546.1 770.8,594.4 770.8,536.2" fill="url(#gG)" clip-path="url(#cU)"/>
<polygon points="-4.1,641 -4.1,561.4 -1.5,596.3 1.1,608.3 3.8,650.0 6.4,636.9 9.0,635.0 11.7,610.1 14.3,606.8 16.9,600.5 19.6,585.1 22.2,559.4 24.9,564.4 27.5,547.0 30.1,573.9 32.8,560.1 35.4,554.8 38.0,567.3 40.7,568.2 43.3,574.1 45.9,575.9 48.6,568.9 51.2,572.7 53.8,551.4 56.5,528.1 59.1,518.9 61.8,515.8 64.4,528.1 67.0,527.0 69.7,585.7 72.3,583.3 74.9,566.6 77.6,571.9 80.2,576.2 82.8,555.6 85.5,552.2 88.1,522.2 90.7,512.8 93.4,497.5 96.0,494.3 98.7,482.7 101.3,490.0 103.9,485.0 106.6,491.5 109.2,477.5 111.8,472.8 114.5,467.0 117.1,464.6 119.7,493.7 122.4,530.1 125.0,527.2 127.6,510.4 130.3,493.8 132.9,485.0 135.5,549.4 138.2,537.7 140.8,524.5 143.5,531.7 146.1,538.8 148.7,533.8 151.4,530.1 154.0,549.6 156.6,580.6 159.3,558.9 161.9,554.6 164.5,596.2 167.2,623.4 169.8,620.1 172.4,619.5 175.1,607.1 177.7,616.5 180.4,619.1 183.0,616.2 185.6,619.7 188.3,628.0 190.9,607.5 193.5,585.8 196.2,570.0 198.8,558.5 201.4,550.8 204.1,553.9 206.7,543.4 209.3,577.1 212.0,571.9 214.6,592.7 217.3,570.6 219.9,548.8 222.5,531.9 225.2,535.3 227.8,534.2 230.4,528.9 233.1,523.2 235.7,565.8 238.3,573.1 241.0,607.3 243.6,603.9 246.2,616.6 248.9,595.9 251.5,609.7 254.2,627.6 256.8,620.7 259.4,640.3 262.1,631.2 264.7,607.6 267.3,608.9 270.0,622.3 272.6,624.8 275.2,620.1 277.9,622.7 280.5,598.8 283.1,569.3 285.8,572.1 288.4,596.4 291.1,608.3 293.7,609.5 296.3,614.7 299.0,634.5 301.6,644.4 304.2,647.9 306.9,650.9 309.5,646.2 312.1,658.5 314.8,674.1 317.4,669.1 320.0,673.3 322.7,656.7 325.3,656.9 328.0,636.6 330.6,629.0 333.2,629.9 335.9,616.0 338.5,634.7 341.1,645.3 343.8,639.4 346.4,617.0 349.0,633.0 351.7,636.7 354.3,633.2 356.9,628.0 359.6,629.3 362.2,624.0 364.9,606.1 367.5,601.2 370.1,644.5 372.8,644.8 375.4,642.0 378.0,628.7 380.7,628.7 383.3,632.7 385.9,630.3 388.6,633.6 391.2,619.9 393.8,555.1 396.5,538.0 399.1,529.7 401.8,545.2 404.4,565.4 407.0,541.6 409.7,553.9 412.3,571.7 414.9,577.6 417.6,529.1 420.2,529.8 422.8,528.3 425.5,527.7 428.1,515.6 430.7,557.9 433.4,545.4 436.0,556.5 438.7,576.4 441.3,578.3 443.9,564.6 446.6,577.8 449.2,593.2 451.8,587.2 454.5,547.2 457.1,546.1 459.7,553.1 462.4,552.6 465.0,555.4 467.6,570.5 470.3,574.2 472.9,570.2 475.6,618.9 478.2,620.0 480.8,621.3 483.5,623.4 486.1,606.8 488.7,611.2 491.4,576.2 494.0,577.3 496.6,593.2 499.3,549.3 501.9,515.8 504.5,513.3 507.2,504.0 509.8,502.7 512.5,502.3 515.1,492.5 517.7,483.0 520.4,521.4 523.0,514.2 525.6,525.3 528.3,517.3 530.9,547.7 533.5,549.7 536.2,546.3 538.8,542.0 541.4,511.4 544.1,499.9 546.7,505.3 549.4,484.3 552.0,478.9 554.6,484.4 557.3,495.8 559.9,489.8 562.5,507.7 565.2,537.6 567.8,543.7 570.4,557.5 573.1,553.3 575.7,573.0 578.3,549.8 581.0,541.0 583.6,547.2 586.3,539.1 588.9,564.0 591.5,587.5 594.2,590.4 596.8,625.6 599.4,595.3 602.1,563.4 604.7,563.1 607.3,608.0 610.0,605.2 612.6,606.2 615.2,578.9 617.9,606.9 620.5,615.2 623.2,595.2 625.8,577.5 628.4,570.1 631.1,583.3 633.7,583.0 636.3,558.5 639.0,564.0 641.6,561.0 644.2,526.7 646.9,510.7 649.5,500.9 652.1,505.3 654.8,500.6 657.4,496.9 660.1,544.6 662.7,551.3 665.3,540.2 668.0,557.5 670.6,541.5 673.2,538.7 675.9,561.1 678.5,566.3 681.1,568.2 683.8,567.6 686.4,578.5 689.0,628.3 691.7,619.5 694.3,603.5 697.0,615.7 699.6,627.4 702.2,602.6 704.9,596.7 707.5,565.9 710.1,564.2 712.8,538.7 715.4,533.8 718.0,528.5 720.7,545.9 723.3,545.8 725.9,547.0 728.6,573.0 731.2,548.2 733.9,545.7 736.5,522.6 739.1,532.9 741.8,528.1 744.4,556.5 747.0,542.6 749.7,552.4 752.3,571.7 754.9,593.3 757.6,581.9 760.2,567.0 762.8,567.2 765.5,582.8 768.1,546.1 770.8,594.4 770.8,641" fill="url(#gR)" clip-path="url(#cD)"/>
<polyline points="-4.1,561.4 -1.5,596.3 1.1,608.3 3.8,650.0 6.4,636.9 9.0,635.0 11.7,610.1 14.3,606.8 16.9,600.5 19.6,585.1 22.2,559.4 24.9,564.4 27.5,547.0 30.1,573.9 32.8,560.1 35.4,554.8 38.0,567.3 40.7,568.2 43.3,574.1 45.9,575.9 48.6,568.9 51.2,572.7 53.8,551.4 56.5,528.1 59.1,518.9 61.8,515.8 64.4,528.1 67.0,527.0 69.7,585.7 72.3,583.3 74.9,566.6 77.6,571.9 80.2,576.2 82.8,555.6 85.5,552.2 88.1,522.2 90.7,512.8 93.4,497.5 96.0,494.3 98.7,482.7 101.3,490.0 103.9,485.0 106.6,491.5 109.2,477.5 111.8,472.8 114.5,467.0 117.1,464.6 119.7,493.7 122.4,530.1 125.0,527.2 127.6,510.4 130.3,493.8 132.9,485.0 135.5,549.4 138.2,537.7 140.8,524.5 143.5,531.7 146.1,538.8 148.7,533.8 151.4,530.1 154.0,549.6 156.6,580.6 159.3,558.9 161.9,554.6 164.5,596.2 167.2,623.4 169.8,620.1 172.4,619.5 175.1,607.1 177.7,616.5 180.4,619.1 183.0,616.2 185.6,619.7 188.3,628.0 190.9,607.5 193.5,585.8 196.2,570.0 198.8,558.5 201.4,550.8 204.1,553.9 206.7,543.4 209.3,577.1 212.0,571.9 214.6,592.7 217.3,570.6 219.9,548.8 222.5,531.9 225.2,535.3 227.8,534.2 230.4,528.9 233.1,523.2 235.7,565.8 238.3,573.1 241.0,607.3 243.6,603.9 246.2,616.6 248.9,595.9 251.5,609.7 254.2,627.6 256.8,620.7 259.4,640.3 262.1,631.2 264.7,607.6 267.3,608.9 270.0,622.3 272.6,624.8 275.2,620.1 277.9,622.7 280.5,598.8 283.1,569.3 285.8,572.1 288.4,596.4 291.1,608.3 293.7,609.5 296.3,614.7 299.0,634.5 301.6,644.4 304.2,647.9 306.9,650.9 309.5,646.2 312.1,658.5 314.8,674.1 317.4,669.1 320.0,673.3 322.7,656.7 325.3,656.9 328.0,636.6 330.6,629.0 333.2,629.9 335.9,616.0 338.5,634.7 341.1,645.3 343.8,639.4 346.4,617.0 349.0,633.0 351.7,636.7 354.3,633.2 356.9,628.0 359.6,629.3 362.2,624.0 364.9,606.1 367.5,601.2 370.1,644.5 372.8,644.8 375.4,642.0 378.0,628.7 380.7,628.7 383.3,632.7 385.9,630.3 388.6,633.6 391.2,619.9 393.8,555.1 396.5,538.0 399.1,529.7 401.8,545.2 404.4,565.4 407.0,541.6 409.7,553.9 412.3,571.7 414.9,577.6 417.6,529.1 420.2,529.8 422.8,528.3 425.5,527.7 428.1,515.6 430.7,557.9 433.4,545.4 436.0,556.5 438.7,576.4 441.3,578.3 443.9,564.6 446.6,577.8 449.2,593.2 451.8,587.2 454.5,547.2 457.1,546.1 459.7,553.1 462.4,552.6 465.0,555.4 467.6,570.5 470.3,574.2 472.9,570.2 475.6,618.9 478.2,620.0 480.8,621.3 483.5,623.4 486.1,606.8 488.7,611.2 491.4,576.2 494.0,577.3 496.6,593.2 499.3,549.3 501.9,515.8 504.5,513.3 507.2,504.0 509.8,502.7 512.5,502.3 515.1,492.5 517.7,483.0 520.4,521.4 523.0,514.2 525.6,525.3 528.3,517.3 530.9,547.7 533.5,549.7 536.2,546.3 538.8,542.0 541.4,511.4 544.1,499.9 546.7,505.3 549.4,484.3 552.0,478.9 554.6,484.4 557.3,495.8 559.9,489.8 562.5,507.7 565.2,537.6 567.8,543.7 570.4,557.5 573.1,553.3 575.7,573.0 578.3,549.8 581.0,541.0 583.6,547.2 586.3,539.1 588.9,564.0 591.5,587.5 594.2,590.4 596.8,625.6 599.4,595.3 602.1,563.4 604.7,563.1 607.3,608.0 610.0,605.2 612.6,606.2 615.2,578.9 617.9,606.9 620.5,615.2 623.2,595.2 625.8,577.5 628.4,570.1 631.1,583.3 633.7,583.0 636.3,558.5 639.0,564.0 641.6,561.0 644.2,526.7 646.9,510.7 649.5,500.9 652.1,505.3 654.8,500.6 657.4,496.9 660.1,544.6 662.7,551.3 665.3,540.2 668.0,557.5 670.6,541.5 673.2,538.7 675.9,561.1 678.5,566.3 681.1,568.2 683.8,567.6 686.4,578.5 689.0,628.3 691.7,619.5 694.3,603.5 697.0,615.7 699.6,627.4 702.2,602.6 704.9,596.7 707.5,565.9 710.1,564.2 712.8,538.7 715.4,533.8 718.0,528.5 720.7,545.9 723.3,545.8 725.9,547.0 728.6,573.0 731.2,548.2 733.9,545.7 736.5,522.6 739.1,532.9 741.8,528.1 744.4,556.5 747.0,542.6 749.7,552.4 752.3,571.7 754.9,593.3 757.6,581.9 760.2,567.0 762.8,567.2 765.5,582.8 768.1,546.1 770.8,594.4" fill="none" stroke="#7e57c2" stroke-width="1.1" stroke-linejoin="round" clip-path="url(#cR)"/>
<polyline points="-4.1,590.4 -1.5,590.0 1.1,588.3 3.8,590.7 6.4,592.3 9.0,593.2 11.7,593.3 14.3,592.8 16.9,593.7 19.6,594.4 22.2,593.1 24.9,593.5 27.5,593.8 30.1,595.4 32.8,595.3 35.4,592.3 38.0,589.4 40.7,583.5 43.3,579.1 45.9,574.8 48.6,571.9 51.2,569.5 53.8,565.9 56.5,561.9 59.1,559.0 61.8,555.5 64.4,554.2 67.0,550.8 69.7,552.6 72.3,554.7 74.9,554.6 77.6,554.9 80.2,555.0 82.8,553.6 85.5,552.4 88.1,548.8 90.7,546.0 93.4,543.8 96.0,542.1 98.7,539.7 101.3,537.0 103.9,534.0 106.6,527.3 109.2,519.7 111.8,513.0 114.5,505.5 117.1,497.5 119.7,493.1 122.4,491.5 125.0,491.9 127.6,491.7 130.3,491.5 132.9,490.8 135.5,495.6 138.2,499.0 140.8,501.8 143.5,504.7 146.1,509.1 148.7,513.4 151.4,517.9 154.0,524.0 156.6,530.2 159.3,532.2 161.9,534.2 164.5,540.3 167.2,549.6 169.8,559.2 172.4,564.2 175.1,569.2 177.7,575.8 180.4,582.0 183.0,587.5 185.6,593.7 188.3,600.7 190.9,604.8 193.5,605.2 196.2,606.0 198.8,606.3 201.4,603.0 204.1,598.1 206.7,592.6 209.3,589.5 212.0,587.0 214.6,585.3 217.3,581.9 219.9,577.1 222.5,570.8 225.2,564.2 227.8,558.9 230.4,554.9 233.1,551.5 235.7,552.0 238.3,553.6 241.0,557.4 243.6,561.8 246.2,564.6 248.9,566.3 251.5,567.5 254.2,571.6 256.8,576.7 259.4,584.5 262.1,591.3 264.7,596.5 267.3,602.3 270.0,609.3 272.6,613.6 275.2,616.9 277.9,618.0 280.5,617.7 283.1,614.3 285.8,612.6 288.4,611.6 291.1,610.2 293.7,609.4 296.3,607.6 299.0,607.8 301.6,610.5 304.2,613.3 306.9,615.3 309.5,616.8 312.1,619.6 314.8,623.2 317.4,628.3 320.0,635.7 322.7,641.7 325.3,646.1 328.0,648.1 330.6,649.5 333.2,650.6 335.9,649.2 338.5,648.5 341.1,648.4 343.8,647.5 346.4,645.5 349.0,643.6 351.7,641.0 354.3,638.4 356.9,635.2 359.6,633.2 362.2,630.9 364.9,628.7 367.5,626.7 370.1,627.7 372.8,629.8 375.4,630.3 378.0,629.1 380.7,628.4 383.3,629.5 385.9,629.3 388.6,629.1 391.2,628.1 393.8,622.9 396.5,616.4 399.1,609.7 401.8,605.3 404.4,602.8 407.0,595.4 409.7,588.9 412.3,583.9 414.9,580.3 417.6,573.1 420.2,565.8 422.8,558.5 425.5,550.9 428.1,543.5 430.7,543.7 433.4,544.2 436.0,546.1 438.7,548.4 441.3,549.3 443.9,550.9 446.6,552.6 449.2,554.2 451.8,554.9 454.5,556.2 457.1,557.3 459.7,559.1 462.4,560.9 465.0,563.7 467.6,564.6 470.3,566.7 472.9,567.6 475.6,570.7 478.2,573.7 480.8,577.7 483.5,581.0 486.1,581.9 488.7,583.6 491.4,585.7 494.0,587.9 496.6,590.8 499.3,590.6 501.9,587.7 504.5,583.7 507.2,578.6 509.8,573.8 512.5,565.5 515.1,556.4 517.7,546.5 520.4,539.2 523.0,532.6 525.6,526.5 528.3,522.3 530.9,520.1 533.5,517.0 536.2,516.8 538.8,518.7 541.4,518.5 544.1,518.3 546.7,518.4 549.4,517.2 552.0,516.2 554.6,516.3 557.3,514.5 559.9,512.7 562.5,511.5 565.2,512.9 567.8,512.6 570.4,513.2 573.1,513.7 575.7,515.9 578.3,518.6 581.0,521.6 583.6,524.6 586.3,528.5 588.9,534.6 591.5,541.9 594.2,548.7 596.8,558.4 599.4,564.6 602.1,566.5 604.7,567.9 607.3,571.5 610.0,575.2 612.6,577.6 615.2,579.6 617.9,584.3 620.5,589.2 623.2,593.2 625.8,594.2 628.4,592.9 631.1,592.4 633.7,589.4 636.3,586.7 639.0,586.8 641.6,586.6 644.2,580.8 646.9,574.1 649.5,566.6 652.1,561.3 654.8,553.7 657.4,545.3 660.1,541.7 662.7,539.8 665.3,537.6 668.0,535.8 670.6,532.8 673.2,531.4 675.9,531.2 678.5,531.6 681.1,534.6 683.8,538.6 686.4,544.2 689.0,552.9 691.7,561.4 694.3,569.1 697.0,574.1 699.6,579.6 702.2,584.0 704.9,586.8 707.5,588.6 710.1,590.4 712.8,588.8 715.4,586.5 718.0,583.6 720.7,582.1 723.3,579.8 725.9,573.9 728.6,570.6 731.2,566.7 733.9,561.7 736.5,554.2 739.1,549.2 741.8,544.3 744.4,543.6 747.0,542.1 749.7,543.1 752.3,545.8 754.9,550.4 757.6,553.0 760.2,554.5 762.8,555.9 765.5,556.6 768.1,556.5 770.8,560.0" fill="none" stroke="#e8c32e" stroke-width="1.1" stroke-linejoin="round" clip-path="url(#cR)"/>
<g stroke="#f23645" stroke-width="1.65" stroke-linecap="round">
<line x1="113.6" y1="464" x2="246.5" y2="530.3"/><line x1="651.6" y1="483.7" x2="784" y2="538.6"/>
</g>
<g fill="#fff" font-size="10.8" stroke="#fff" stroke-width="0.3" style="opacity:.999">
<text transform="translate(134.7,487.9) rotate(25.8)" textLength="90" lengthAdjust="spacingAndGlyphs">Bearish Divergence</text>
<text transform="translate(672.2,506.6) rotate(21.6)" textLength="90" lengthAdjust="spacingAndGlyphs">Bearish Divergence</text>
</g>
<rect x="0" y="438" width="1078" height="1" fill="#2a2e39"/>
<rect x="1027" y="5" width="1" height="712" fill="#2a2a2a"/>
<rect x="0" y="696" width="1078" height="1" fill="#2a2a2a"/>
<rect x="0" y="716" width="1078" height="8" fill="#131313"/>
<rect x="0" y="716" width="1078" height="1" fill="#2a2a2a"/>
<g fill="#b8bbc4" stroke="#b8bbc4" stroke-width="0.22" font-size="10.1" clip-path="url(#cAx)" style="opacity:.999">
<text x="1034" y="440.1" textLength="44.3" lengthAdjust="spacingAndGlyphs">−20,000.00</text>
<text x="1034" y="416.1" textLength="44.3" lengthAdjust="spacingAndGlyphs">−10,000.00</text>
<text x="1034" y="392.2" textLength="17.1" lengthAdjust="spacingAndGlyphs">0.00</text>
<text x="1034" y="368.3" textLength="39.1" lengthAdjust="spacingAndGlyphs">10,000.00</text>
<text x="1034" y="344.3" textLength="39.1" lengthAdjust="spacingAndGlyphs">20,000.00</text>
<text x="1034" y="320.4" textLength="39.1" lengthAdjust="spacingAndGlyphs">30,000.00</text>
<text x="1034" y="296.5" textLength="39.1" lengthAdjust="spacingAndGlyphs">40,000.00</text>
<text x="1034" y="272.6" textLength="39.1" lengthAdjust="spacingAndGlyphs">50,000.00</text>
<text x="1034" y="248.6" textLength="39.1" lengthAdjust="spacingAndGlyphs">60,000.00</text>
<text x="1034" y="224.7" textLength="39.1" lengthAdjust="spacingAndGlyphs">70,000.00</text>
<text x="1034" y="200.8" textLength="39.1" lengthAdjust="spacingAndGlyphs">80,000.00</text>
<text x="1034" y="176.8" textLength="39.1" lengthAdjust="spacingAndGlyphs">90,000.00</text>
<text x="1034" y="152.9" textLength="43.9" lengthAdjust="spacingAndGlyphs">100,000.00</text>
<text x="1034" y="105.0" textLength="43.9" lengthAdjust="spacingAndGlyphs">120,000.00</text>
<text x="1034" y="81.1" textLength="43.9" lengthAdjust="spacingAndGlyphs">130,000.00</text>
<text x="1034" y="57.2" textLength="43.9" lengthAdjust="spacingAndGlyphs">140,000.00</text>
<text x="1034" y="33.2" textLength="43.9" lengthAdjust="spacingAndGlyphs">150,000.00</text>
<text x="1034" y="696.7" textLength="22.0" lengthAdjust="spacingAndGlyphs">10.00</text>
<text x="1034" y="670.5" textLength="22.0" lengthAdjust="spacingAndGlyphs">20.00</text>
<text x="1034" y="644.3" textLength="22.0" lengthAdjust="spacingAndGlyphs">30.00</text>
<text x="1034" y="618.1" textLength="22.0" lengthAdjust="spacingAndGlyphs">40.00</text>
<text x="1034" y="591.9" textLength="22.0" lengthAdjust="spacingAndGlyphs">50.00</text>
<text x="1034" y="565.7" textLength="22.0" lengthAdjust="spacingAndGlyphs">60.00</text>
<text x="1034" y="539.5" textLength="22.0" lengthAdjust="spacingAndGlyphs">70.00</text>
<text x="1034" y="513.3" textLength="22.0" lengthAdjust="spacingAndGlyphs">80.00</text>
<text x="1034" y="487.1" textLength="22.0" lengthAdjust="spacingAndGlyphs">90.00</text>
<text x="1034" y="460.9" textLength="26.9" lengthAdjust="spacingAndGlyphs">100.00</text>
</g>
<rect x="1028" y="5" width="50" height="24" fill="#000"/>
<g fill="#b2b5be" font-size="10"><text x="1034" y="32" textLength="44" lengthAdjust="spacingAndGlyphs" clip-path="url(#cAx)">150,000.00</text></g>
<rect x="1028" y="5" width="50" height="23" fill="#000"/>
<rect x="1030.5" y="8.5" width="60" height="19" rx="2.5" fill="#0f0f0f" stroke="#3a3a3a" stroke-width="1"/>
<text x="1033.2" y="21.3" font-size="9.2" fill="#e8e8f0" stroke="#e8e8f0" stroke-width="0.25" textLength="15.6" lengthAdjust="spacingAndGlyphs" style="opacity:.999">USD</text>
<path d="M1074.5 16.8 l2.2 2 l2.2 -2" fill="none" stroke="#b2b5be" stroke-width="1"/>
<g fill="#b2b5be" font-size="10"><text x="1034" y="128.6" textLength="44" lengthAdjust="spacingAndGlyphs">110,000.00</text></g>
<rect x="1028" y="119" width="44.3" height="13" rx="1" fill="#f25551"/>
<text x="1033.7" y="129.2" font-size="9.4" font-weight="bold" fill="#fde3e3" textLength="33.6" lengthAdjust="spacingAndGlyphs" style="opacity:.999">21:54:31</text>
<g font-size="9.6" text-anchor="middle" style="opacity:.999">
<text x="47.7" y="710.1" fill="#b4b7c0" textLength="12" lengthAdjust="spacingAndGlyphs">Jul</text>
<text x="116.3" y="710.4" fill="#d6d8de" font-weight="bold" font-size="10.6" textLength="20.2" lengthAdjust="spacingAndGlyphs">2021</text>
<text x="184.9" y="710.1" fill="#b4b7c0" textLength="12" lengthAdjust="spacingAndGlyphs">Jul</text>
<text x="253.5" y="710.4" fill="#d6d8de" font-weight="bold" font-size="10.6" textLength="20.2" lengthAdjust="spacingAndGlyphs">2022</text>
<text x="322.1" y="710.1" fill="#b4b7c0" textLength="12" lengthAdjust="spacingAndGlyphs">Jul</text>
<text x="390.8" y="710.4" fill="#d6d8de" font-weight="bold" font-size="10.6" textLength="20.2" lengthAdjust="spacingAndGlyphs">2023</text>
<text x="459.4" y="710.1" fill="#b4b7c0" textLength="12" lengthAdjust="spacingAndGlyphs">Jul</text>
<text x="528.0" y="710.4" fill="#d6d8de" font-weight="bold" font-size="10.6" textLength="20.2" lengthAdjust="spacingAndGlyphs">2024</text>
<text x="596.6" y="710.1" fill="#b4b7c0" textLength="12" lengthAdjust="spacingAndGlyphs">Jul</text>
<text x="667.9" y="710.4" fill="#d6d8de" font-weight="bold" font-size="10.6" textLength="20.2" lengthAdjust="spacingAndGlyphs">2025</text>
<text x="736.5" y="710.1" fill="#b4b7c0" textLength="12" lengthAdjust="spacingAndGlyphs">Jul</text>
<text x="805.1" y="710.4" fill="#d6d8de" font-weight="bold" font-size="10.6" textLength="20.2" lengthAdjust="spacingAndGlyphs">2026</text>
<text x="873.7" y="710.1" fill="#b4b7c0" textLength="12" lengthAdjust="spacingAndGlyphs">Jul</text>
<text x="942.3" y="710.4" fill="#d6d8de" font-weight="bold" font-size="10.6" textLength="20.2" lengthAdjust="spacingAndGlyphs">2027</text>
<text x="1010.9" y="710.1" fill="#b4b7c0" textLength="12" lengthAdjust="spacingAndGlyphs">Jul</text>
</g>
<polygon points="1061.10,706.80 1058.55,711.13 1053.45,711.13 1050.90,706.80 1053.45,702.47 1058.55,702.47" fill="none" stroke="#c8cad0" stroke-width="1.1" stroke-linejoin="round"/>
<circle cx="1056" cy="706.8" r="1.7" fill="none" stroke="#c8cad0" stroke-width="1"/>
<g font-size="10.4" font-weight="bold" fill="#ecd93a" style="opacity:.999"><text x="-0.4" y="21.3" textLength="28.3" lengthAdjust="spacingAndGlyphs">272.68</text><text x="31.8" y="21.3" textLength="47.4" lengthAdjust="spacingAndGlyphs">−13,248.11</text><text x="84.4" y="21.3" textLength="40.9" lengthAdjust="spacingAndGlyphs">(−10.73%)</text></g>
<g>
<path d="M 763.8 408.4 A 7.5 7.5 0 1 1 765.6 415.3" fill="none" stroke="#a23fb3" stroke-width="1.1"/>
<path d="M772.9 405.2 L768.2 410.5 L770.9 410.5 L768.6 414.4 L773.6 409 L770.9 409 Z" fill="#a23fb3" stroke="#a23fb3" stroke-width="0.6" stroke-linejoin="round"/>
<path d="M762.6 408.6 Q763.1 411.8 766.4 412.3 Q763.1 412.8 762.6 416 Q762.1 412.8 758.8 412.3 Q762.1 411.8 762.6 408.6 Z" fill="#6a4bff"/>
<circle cx="773.0" cy="428.4" r="7.8" fill="#000" stroke="#e22c3c" stroke-width="1.1"/>
<circle cx="770.6" cy="428.4" r="7.8" fill="#000" stroke="#e8303f" stroke-width="1.5"/>
<clipPath id="cF"><circle cx="770.6" cy="428.4" r="5.9"/></clipPath>
<g clip-path="url(#cF)">
<rect x="762" y="420" width="18" height="18" fill="#fff"/>
<rect x="762" y="422.0" width="18" height="1.4" fill="#ef4b4b"/>
<rect x="762" y="424.6" width="18" height="1.4" fill="#ef4b4b"/>
<rect x="762" y="427.2" width="18" height="1.4" fill="#ef4b4b"/>
<rect x="762" y="431.6" width="18" height="4" fill="#ef4b4b"/>
<rect x="762" y="420" width="9.6" height="9.4" fill="#3d7de0"/>
<circle cx="765.6" cy="423.2" r="0.45" fill="#dfe9fb"/>
<circle cx="767.6" cy="423.2" r="0.45" fill="#dfe9fb"/>
<circle cx="769.6" cy="423.2" r="0.45" fill="#dfe9fb"/>
<circle cx="765.6" cy="425.4" r="0.45" fill="#dfe9fb"/>
<circle cx="767.6" cy="425.4" r="0.45" fill="#dfe9fb"/>
<circle cx="769.6" cy="425.4" r="0.45" fill="#dfe9fb"/>
<circle cx="765.6" cy="427.6" r="0.45" fill="#dfe9fb"/>
<circle cx="767.6" cy="427.6" r="0.45" fill="#dfe9fb"/>
<circle cx="769.6" cy="427.6" r="0.45" fill="#dfe9fb"/>
</g>
</g>
</svg></body></html>
